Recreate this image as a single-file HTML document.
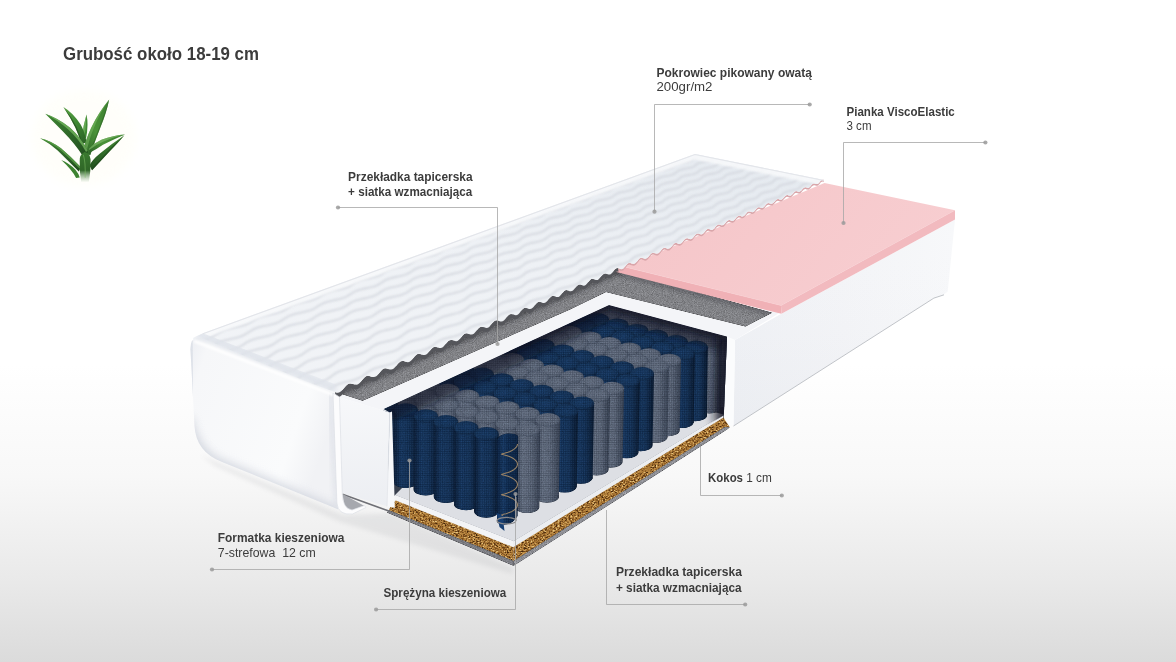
<!DOCTYPE html>
<html lang="pl">
<head>
<meta charset="utf-8">
<title>Grubość około 18-19 cm</title>
<style>
html,body{margin:0;padding:0;background:#fff;}
body{width:1176px;height:662px;overflow:hidden;}
svg{display:block;}
text{white-space:pre;}
</style>
</head>
<body>
<svg width="1176" height="662" viewBox="0 0 1176 662">
<defs>

<linearGradient id="bg" x1="0" y1="0" x2="0" y2="1">
  <stop offset="0" stop-color="#ffffff"/>
  <stop offset="0.55" stop-color="#ffffff"/>
  <stop offset="0.72" stop-color="#f8f8f8"/>
  <stop offset="0.88" stop-color="#e9e9e9"/>
  <stop offset="1" stop-color="#dbdbdb"/>
</linearGradient>
<linearGradient id="gBlue" x1="0" y1="0" x2="1" y2="0">
  <stop offset="0" stop-color="#0b1f3c"/>
  <stop offset="0.3" stop-color="#193d6b"/>
  <stop offset="0.65" stop-color="#163761"/>
  <stop offset="1" stop-color="#0a1c35"/>
</linearGradient>
<linearGradient id="gGray" x1="0" y1="0" x2="1" y2="0">
  <stop offset="0" stop-color="#434d61"/>
  <stop offset="0.3" stop-color="#717c90"/>
  <stop offset="0.65" stop-color="#677286"/>
  <stop offset="1" stop-color="#3d475a"/>
</linearGradient>
<radialGradient id="cBlue" cx="0.45" cy="0.45" r="0.6">
  <stop offset="0" stop-color="#1a4070"/>
  <stop offset="0.7" stop-color="#173963"/>
  <stop offset="1" stop-color="#0e2646"/>
</radialGradient>
<radialGradient id="cGray" cx="0.45" cy="0.45" r="0.6">
  <stop offset="0" stop-color="#727d91"/>
  <stop offset="0.7" stop-color="#687387"/>
  <stop offset="1" stop-color="#4a5569"/>
</radialGradient>
<filter id="fabric" x="0" y="0" width="1" height="1" color-interpolation-filters="sRGB">
  <feTurbulence type="fractalNoise" baseFrequency="0.85" numOctaves="2" seed="7" result="n"/>
  <feColorMatrix in="n" type="matrix" values="0.33 0.33 0.33 0 0  0.33 0.33 0.33 0 0  0.33 0.33 0.33 0 0  0 0 0 0 1" result="g"/>
  <feComposite in="SourceGraphic" in2="g" operator="arithmetic" k1="0.7" k2="0.56" k3="0" k4="0"/>
</filter>
<filter id="felt" x="0" y="0" width="1" height="1" color-interpolation-filters="sRGB">
  <feTurbulence type="fractalNoise" baseFrequency="1.1" numOctaves="2" seed="11" result="n"/>
  <feColorMatrix in="n" type="matrix" values="0.33 0.33 0.33 0 0  0.33 0.33 0.33 0 0  0.33 0.33 0.33 0 0  0 0 0 0 1" result="g"/>
  <feComposite in="SourceGraphic" in2="g" operator="arithmetic" k1="1.0" k2="0.5" k3="0" k4="0"/>
</filter>
<filter id="coco" x="0" y="0" width="1" height="1" color-interpolation-filters="sRGB">
  <feTurbulence type="fractalNoise" baseFrequency="0.55 0.8" numOctaves="3" seed="5" result="n"/>
  <feColorMatrix in="n" type="matrix" values="1.1 1.1 1.1 0 -1.15  1.1 1.1 1.1 0 -1.15  1.1 1.1 1.1 0 -1.15  0 0 0 0 1" result="g"/>
  <feComponentTransfer in="g" result="c">
    <feFuncR type="table" tableValues="0.26 0.46 0.66 0.76 0.90"/>
    <feFuncG type="table" tableValues="0.15 0.29 0.46 0.57 0.78"/>
    <feFuncB type="table" tableValues="0.05 0.11 0.20 0.29 0.52"/>
  </feComponentTransfer>
  <feComposite in="c" in2="SourceAlpha" operator="in"/>
</filter>
<pattern id="weave" width="2.2" height="2.2" patternUnits="userSpaceOnUse">
  <rect x="0" y="0" width="2.2" height="0.8" fill="#000814" opacity="0.16"/>
  <rect x="0" y="0" width="0.8" height="2.2" fill="#000814" opacity="0.13"/>
  <rect x="1" y="1" width="1" height="1" fill="#cfd8e6" opacity="0.07"/>
</pattern>
<filter id="blurR" filterUnits="userSpaceOnUse" x="670" y="300" width="80" height="150"><feGaussianBlur stdDeviation="4"/></filter>
<filter id="blur1"><feGaussianBlur stdDeviation="1"/></filter>
<filter id="blur2"><feGaussianBlur stdDeviation="2"/></filter>
<filter id="blur4"><feGaussianBlur stdDeviation="4"/></filter>
<filter id="blur8" x="-0.2" y="-0.5" width="1.4" height="2"><feGaussianBlur stdDeviation="7"/></filter>


<linearGradient id="gRight" x1="0" y1="0" x2="1" y2="0">
  <stop offset="0" stop-color="#eff1f5"/>
  <stop offset="0.5" stop-color="#f3f4f7"/>
  <stop offset="1" stop-color="#f7f8fa"/>
</linearGradient>
<linearGradient id="gRightV" x1="0" y1="0" x2="0" y2="1">
  <stop offset="0" stop-color="#ffffff" stop-opacity="0"/>
  <stop offset="1" stop-color="#c9ccd4" stop-opacity="0.12"/>
</linearGradient>

<g id="spr"><path d="M591.7 302.1 L591.8 358.2 A11.7 5.9 0 0 0 615.2 358.2 L614.9 302.1 Z" fill="url(#gGray)"/><ellipse cx="603.3" cy="302.1" rx="11.6" ry="6.5" fill="url(#cGray)"/><path d="M580.5 307.3 L580.3 364.3 A11.7 5.9 0 0 0 603.8 364.3 L603.7 307.3 Z" fill="url(#gGray)"/><ellipse cx="592.1" cy="307.3" rx="11.6" ry="6.5" fill="url(#cGray)"/><path d="M611.1 307.5 L611.3 365.4 A11.7 5.9 0 0 0 634.8 365.4 L634.4 307.5 Z" fill="url(#gGray)"/><ellipse cx="622.7" cy="307.5" rx="11.7" ry="6.5" fill="url(#cGray)"/><path d="M599.9 312.8 L599.9 371.5 A11.7 5.9 0 0 0 623.4 371.5 L623.2 312.8 Z" fill="url(#gGray)"/><ellipse cx="611.6" cy="312.8" rx="11.7" ry="6.5" fill="url(#cGray)"/><path d="M566.3 314.0 L565.8 372.0 A11.8 5.9 0 0 0 589.4 372.0 L589.5 314.0 Z" fill="url(#gBlue)"/><ellipse cx="577.9" cy="314.0" rx="11.6" ry="6.5" fill="url(#cBlue)"/><path d="M630.5 313.0 L630.8 372.7 A11.7 5.9 0 0 0 654.3 372.7 L653.9 313.0 Z" fill="url(#gGray)"/><ellipse cx="642.2" cy="313.0" rx="11.7" ry="6.6" fill="url(#cGray)"/><path d="M619.4 318.3 L619.5 378.8 A11.7 5.9 0 0 0 643.0 378.8 L642.8 318.3 Z" fill="url(#gGray)"/><ellipse cx="631.1" cy="318.3" rx="11.7" ry="6.6" fill="url(#cGray)"/><path d="M553.0 320.2 L552.4 379.2 A11.8 5.9 0 0 0 576.0 379.2 L576.4 320.2 Z" fill="url(#gBlue)"/><ellipse cx="564.7" cy="320.2" rx="11.7" ry="6.5" fill="url(#cBlue)"/><path d="M585.7 319.5 L585.5 379.3 A11.8 5.9 0 0 0 609.0 379.3 L609.1 319.5 Z" fill="url(#gBlue)"/><ellipse cx="597.4" cy="319.5" rx="11.7" ry="6.5" fill="url(#cBlue)"/><path d="M650.0 318.4 L650.4 379.9 A11.7 5.9 0 0 0 673.8 379.9 L673.5 318.4 Z" fill="url(#gGray)"/><ellipse cx="661.8" cy="318.4" rx="11.7" ry="6.6" fill="url(#cGray)"/><path d="M638.9 323.8 L639.0 386.0 A11.7 5.9 0 0 0 662.5 386.0 L662.5 323.8 Z" fill="url(#gGray)"/><ellipse cx="650.7" cy="323.8" rx="11.8" ry="6.6" fill="url(#cGray)"/><path d="M572.5 325.7 L572.0 386.4 A11.8 5.9 0 0 0 595.6 386.4 L595.9 325.7 Z" fill="url(#gBlue)"/><ellipse cx="584.2" cy="325.7" rx="11.7" ry="6.6" fill="url(#cBlue)"/><path d="M605.2 325.0 L605.1 386.5 A11.8 5.9 0 0 0 628.6 386.5 L628.7 325.0 Z" fill="url(#gBlue)"/><ellipse cx="616.9" cy="325.0" rx="11.7" ry="6.6" fill="url(#cBlue)"/><path d="M538.8 326.9 L537.9 386.9 A11.8 5.9 0 0 0 561.6 386.9 L562.2 326.9 Z" fill="url(#gGray)"/><ellipse cx="550.5" cy="326.9" rx="11.7" ry="6.5" fill="url(#cGray)"/><path d="M669.7 323.9 L669.9 387.1 A11.7 5.8 0 0 0 693.3 387.1 L693.2 323.9 Z" fill="url(#gGray)"/><ellipse cx="681.4" cy="323.9" rx="11.8" ry="6.6" fill="url(#cGray)"/><path d="M658.6 329.3 L658.6 393.2 A11.7 5.9 0 0 0 682.0 393.2 L682.2 329.3 Z" fill="url(#gGray)"/><ellipse cx="670.4" cy="329.3" rx="11.8" ry="6.6" fill="url(#cGray)"/><path d="M526.6 332.6 L525.6 393.5 A11.9 5.9 0 0 0 549.3 393.5 L550.0 332.6 Z" fill="url(#gGray)"/><ellipse cx="538.3" cy="332.6" rx="11.7" ry="6.6" fill="url(#cGray)"/><path d="M592.1 331.3 L591.7 393.7 A11.8 5.9 0 0 0 615.3 393.7 L615.6 331.3 Z" fill="url(#gBlue)"/><ellipse cx="603.8" cy="331.3" rx="11.8" ry="6.6" fill="url(#cBlue)"/><path d="M624.8 330.5 L624.7 393.7 A11.8 5.9 0 0 0 648.2 393.7 L648.4 330.5 Z" fill="url(#gBlue)"/><ellipse cx="636.6" cy="330.5" rx="11.8" ry="6.6" fill="url(#cBlue)"/><path d="M558.3 332.4 L557.6 394.1 A11.8 5.9 0 0 0 581.3 394.1 L581.8 332.4 Z" fill="url(#gGray)"/><ellipse cx="570.0" cy="332.4" rx="11.7" ry="6.6" fill="url(#cGray)"/><path d="M689.3 329.5 L689.4 394.3 A11.7 5.8 0 0 0 712.7 394.3 L713.0 329.5 Z" fill="url(#gGray)"/><ellipse cx="701.2" cy="329.5" rx="11.8" ry="6.6" fill="url(#cGray)"/><path d="M678.3 334.8 L678.1 400.4 A11.7 5.9 0 0 0 701.5 400.4 L702.0 334.8 Z" fill="url(#gGray)"/><ellipse cx="690.2" cy="334.8" rx="11.9" ry="6.6" fill="url(#cGray)"/><path d="M546.1 338.2 L545.3 400.7 A11.8 5.9 0 0 0 569.0 400.7 L569.6 338.2 Z" fill="url(#gGray)"/><ellipse cx="557.9" cy="338.2" rx="11.7" ry="6.6" fill="url(#cGray)"/><path d="M611.7 336.8 L611.3 400.9 A11.8 5.9 0 0 0 634.9 400.9 L635.3 336.8 Z" fill="url(#gBlue)"/><ellipse cx="623.5" cy="336.8" rx="11.8" ry="6.6" fill="url(#cBlue)"/><path d="M644.5 336.1 L644.2 401.0 A11.7 5.9 0 0 0 667.7 401.0 L668.1 336.1 Z" fill="url(#gBlue)"/><ellipse cx="656.3" cy="336.1" rx="11.8" ry="6.6" fill="url(#cBlue)"/><path d="M577.9 338.0 L577.3 401.4 A11.8 5.9 0 0 0 601.0 401.4 L601.4 338.0 Z" fill="url(#gGray)"/><ellipse cx="589.7" cy="338.0" rx="11.8" ry="6.6" fill="url(#cGray)"/><path d="M709.1 335.0 L708.8 401.4 A11.7 5.8 0 0 0 732.2 401.4 L732.9 335.0 Z" fill="url(#gGray)"/><ellipse cx="721.0" cy="335.0" rx="11.9" ry="6.7" fill="url(#cGray)"/><path d="M511.3 339.8 L510.2 401.7 A11.9 5.9 0 0 0 533.9 401.7 L534.8 339.8 Z" fill="url(#gBlue)"/><ellipse cx="523.1" cy="339.8" rx="11.7" ry="6.6" fill="url(#cBlue)"/><path d="M698.1 340.4 L697.6 407.6 A11.7 5.9 0 0 0 721.0 407.6 L721.9 340.4 Z" fill="url(#gGray)"/><ellipse cx="710.0" cy="340.4" rx="11.9" ry="6.7" fill="url(#cGray)"/><path d="M565.7 343.8 L565.1 408.0 A11.8 5.9 0 0 0 588.7 408.0 L589.3 343.8 Z" fill="url(#gGray)"/><ellipse cx="577.5" cy="343.8" rx="11.8" ry="6.6" fill="url(#cGray)"/><path d="M631.4 342.4 L631.0 408.2 A11.8 5.9 0 0 0 654.5 408.2 L655.1 342.4 Z" fill="url(#gBlue)"/><ellipse cx="643.2" cy="342.4" rx="11.9" ry="6.6" fill="url(#cBlue)"/><path d="M664.2 341.7 L663.8 408.2 A11.7 5.9 0 0 0 687.3 408.2 L688.0 341.7 Z" fill="url(#gBlue)"/><ellipse cx="676.1" cy="341.7" rx="11.9" ry="6.7" fill="url(#cBlue)"/><path d="M597.5 343.6 L597.0 408.7 A11.8 5.9 0 0 0 620.6 408.7 L621.2 343.6 Z" fill="url(#gGray)"/><ellipse cx="609.4" cy="343.6" rx="11.8" ry="6.6" fill="url(#cGray)"/><path d="M530.9 345.4 L530.0 409.0 A11.9 5.9 0 0 0 553.7 409.0 L554.5 345.4 Z" fill="url(#gBlue)"/><ellipse cx="542.7" cy="345.4" rx="11.8" ry="6.6" fill="url(#cBlue)"/><path d="M497.1 346.4 L495.8 409.3 A11.9 6.0 0 0 0 519.6 409.3 L520.6 346.4 Z" fill="url(#gBlue)"/><ellipse cx="508.9" cy="346.4" rx="11.7" ry="6.6" fill="url(#cBlue)"/><path d="M585.4 349.4 L584.8 415.3 A11.8 5.9 0 0 0 608.5 415.3 L609.1 349.4 Z" fill="url(#gGray)"/><ellipse cx="597.3" cy="349.4" rx="11.8" ry="6.6" fill="url(#cGray)"/><path d="M684.1 347.3 L683.4 415.4 A11.7 5.9 0 0 0 706.9 415.4 L707.9 347.3 Z" fill="url(#gBlue)"/><ellipse cx="696.0" cy="347.3" rx="11.9" ry="6.7" fill="url(#cBlue)"/><path d="M651.2 348.0 L650.6 415.4 A11.8 5.9 0 0 0 674.1 415.4 L675.0 348.0 Z" fill="url(#gBlue)"/><ellipse cx="663.1" cy="348.0" rx="11.9" ry="6.7" fill="url(#cBlue)"/><path d="M617.3 349.2 L616.7 415.9 A11.8 5.9 0 0 0 640.3 415.9 L641.0 349.2 Z" fill="url(#gGray)"/><ellipse cx="629.2" cy="349.2" rx="11.9" ry="6.7" fill="url(#cGray)"/><path d="M550.6 351.0 L549.7 416.2 A11.9 5.9 0 0 0 573.5 416.2 L574.2 351.0 Z" fill="url(#gBlue)"/><ellipse cx="562.4" cy="351.0" rx="11.8" ry="6.6" fill="url(#cBlue)"/><path d="M516.7 352.1 L515.6 416.6 A11.9 6.0 0 0 0 539.5 416.6 L540.3 352.1 Z" fill="url(#gBlue)"/><ellipse cx="528.5" cy="352.1" rx="11.8" ry="6.6" fill="url(#cBlue)"/><path d="M480.8 354.1 L479.4 418.0 A11.9 6.0 0 0 0 503.3 418.0 L504.4 354.1 Z" fill="url(#gGray)"/><ellipse cx="492.6" cy="354.1" rx="11.8" ry="6.6" fill="url(#cGray)"/><path d="M605.2 355.0 L604.5 422.5 A11.8 5.9 0 0 0 628.2 422.5 L629.0 355.0 Z" fill="url(#gGray)"/><ellipse cx="617.1" cy="355.0" rx="11.9" ry="6.7" fill="url(#cGray)"/><path d="M671.0 353.7 L670.2 422.6 A11.8 5.9 0 0 0 693.7 422.6 L695.0 353.7 Z" fill="url(#gBlue)"/><ellipse cx="683.0" cy="353.7" rx="12.0" ry="6.7" fill="url(#cBlue)"/><path d="M637.1 354.9 L636.4 423.2 A11.8 5.9 0 0 0 660.0 423.2 L661.0 354.9 Z" fill="url(#gGray)"/><ellipse cx="649.0" cy="354.9" rx="11.9" ry="6.7" fill="url(#cGray)"/><path d="M570.3 356.7 L569.5 423.5 A11.9 5.9 0 0 0 593.2 423.5 L594.0 356.7 Z" fill="url(#gBlue)"/><ellipse cx="582.2" cy="356.7" rx="11.9" ry="6.6" fill="url(#cBlue)"/><path d="M536.4 357.7 L535.5 423.9 A11.9 5.9 0 0 0 559.3 423.9 L560.1 357.7 Z" fill="url(#gBlue)"/><ellipse cx="548.2" cy="357.7" rx="11.8" ry="6.6" fill="url(#cBlue)"/><path d="M500.5 359.7 L499.3 425.3 A11.9 6.0 0 0 0 523.2 425.3 L524.1 359.7 Z" fill="url(#gGray)"/><ellipse cx="512.3" cy="359.7" rx="11.8" ry="6.6" fill="url(#cGray)"/><path d="M466.6 360.7 L465.2 425.6 A12.0 6.0 0 0 0 489.1 425.6 L490.2 360.7 Z" fill="url(#gGray)"/><ellipse cx="478.4" cy="360.7" rx="11.8" ry="6.6" fill="url(#cGray)"/><path d="M625.1 360.7 L624.2 429.8 A11.8 5.9 0 0 0 647.8 429.8 L649.0 360.7 Z" fill="url(#gGray)"/><ellipse cx="637.0" cy="360.7" rx="11.9" ry="6.7" fill="url(#cGray)"/><path d="M657.0 360.5 L656.0 430.4 A11.8 5.9 0 0 0 679.6 430.4 L681.0 360.5 Z" fill="url(#gGray)"/><ellipse cx="669.0" cy="360.5" rx="12.0" ry="6.7" fill="url(#cGray)"/><path d="M590.1 362.3 L589.3 430.8 A11.9 5.9 0 0 0 613.0 430.8 L613.9 362.3 Z" fill="url(#gBlue)"/><ellipse cx="602.0" cy="362.3" rx="11.9" ry="6.7" fill="url(#cBlue)"/><path d="M556.2 363.4 L555.3 431.2 A11.9 5.9 0 0 0 579.1 431.2 L579.9 363.4 Z" fill="url(#gBlue)"/><ellipse cx="568.1" cy="363.4" rx="11.9" ry="6.7" fill="url(#cBlue)"/><path d="M520.2 365.4 L519.2 432.6 A11.9 6.0 0 0 0 543.1 432.6 L543.9 365.4 Z" fill="url(#gGray)"/><ellipse cx="532.1" cy="365.4" rx="11.9" ry="6.6" fill="url(#cGray)"/><path d="M486.3 366.4 L485.1 432.9 A12.0 6.0 0 0 0 509.0 432.9 L510.0 366.4 Z" fill="url(#gGray)"/><ellipse cx="498.1" cy="366.4" rx="11.8" ry="6.6" fill="url(#cGray)"/><path d="M450.4 368.3 L448.9 434.3 A12.0 6.0 0 0 0 472.9 434.3 L474.0 368.3 Z" fill="url(#gBlue)"/><ellipse cx="462.2" cy="368.3" rx="11.8" ry="6.6" fill="url(#cBlue)"/><path d="M645.0 366.4 L643.9 437.0 A11.8 5.9 0 0 0 667.5 437.0 L669.0 366.4 Z" fill="url(#gGray)"/><ellipse cx="657.0" cy="366.4" rx="12.0" ry="6.7" fill="url(#cGray)"/><path d="M610.0 368.0 L609.0 438.1 A11.8 5.9 0 0 0 632.7 438.1 L633.9 368.0 Z" fill="url(#gBlue)"/><ellipse cx="622.0" cy="368.0" rx="12.0" ry="6.7" fill="url(#cBlue)"/><path d="M576.0 369.1 L575.1 438.5 A11.9 5.9 0 0 0 598.9 438.5 L599.9 369.1 Z" fill="url(#gBlue)"/><ellipse cx="588.0" cy="369.1" rx="11.9" ry="6.7" fill="url(#cBlue)"/><path d="M540.0 371.2 L539.1 439.9 A11.9 6.0 0 0 0 562.9 439.9 L563.8 371.2 Z" fill="url(#gGray)"/><ellipse cx="551.9" cy="371.2" rx="11.9" ry="6.7" fill="url(#cGray)"/><path d="M506.0 372.2 L505.0 440.3 A12.0 6.0 0 0 0 528.9 440.3 L529.8 372.2 Z" fill="url(#gGray)"/><ellipse cx="517.9" cy="372.2" rx="11.9" ry="6.7" fill="url(#cGray)"/><path d="M470.1 374.1 L468.9 441.6 A12.0 6.0 0 0 0 492.9 441.6 L493.8 374.1 Z" fill="url(#gBlue)"/><ellipse cx="481.9" cy="374.1" rx="11.9" ry="6.6" fill="url(#cBlue)"/><path d="M434.1 376.0 L432.6 442.9 A12.0 6.0 0 0 0 456.7 442.9 L457.8 376.0 Z" fill="url(#gBlue)"/><ellipse cx="445.9" cy="376.0" rx="11.8" ry="6.6" fill="url(#cBlue)"/><path d="M630.0 373.8 L628.8 445.3 A11.8 5.9 0 0 0 652.5 445.3 L654.0 373.8 Z" fill="url(#gBlue)"/><ellipse cx="642.0" cy="373.8" rx="12.0" ry="6.7" fill="url(#cBlue)"/><path d="M595.9 374.9 L594.9 445.8 A11.9 5.9 0 0 0 618.7 445.8 L619.9 374.9 Z" fill="url(#gBlue)"/><ellipse cx="607.9" cy="374.9" rx="12.0" ry="6.7" fill="url(#cBlue)"/><path d="M559.9 376.9 L559.0 447.2 A11.9 6.0 0 0 0 582.8 447.2 L583.8 376.9 Z" fill="url(#gGray)"/><ellipse cx="571.9" cy="376.9" rx="12.0" ry="6.7" fill="url(#cGray)"/><path d="M525.9 377.9 L525.0 447.6 A11.9 6.0 0 0 0 548.9 447.6 L549.8 377.9 Z" fill="url(#gGray)"/><ellipse cx="537.8" cy="377.9" rx="11.9" ry="6.7" fill="url(#cGray)"/><path d="M489.9 379.9 L488.9 449.0 A12.0 6.0 0 0 0 512.8 449.0 L513.7 379.9 Z" fill="url(#gBlue)"/><ellipse cx="501.8" cy="379.9" rx="11.9" ry="6.7" fill="url(#cBlue)"/><path d="M453.8 381.8 L452.7 450.3 A12.0 6.0 0 0 0 476.7 450.3 L477.6 381.8 Z" fill="url(#gBlue)"/><ellipse cx="465.7" cy="381.8" rx="11.9" ry="6.7" fill="url(#cBlue)"/><path d="M415.8 384.5 L414.4 452.6 A12.1 6.0 0 0 0 438.5 452.6 L439.5 384.5 Z" fill="url(#gGray)"/><ellipse cx="427.7" cy="384.5" rx="11.9" ry="6.6" fill="url(#cGray)"/><path d="M616.0 380.6 L614.7 453.0 A11.9 5.9 0 0 0 638.4 453.0 L640.0 380.6 Z" fill="url(#gBlue)"/><ellipse cx="628.0" cy="380.6" rx="12.0" ry="6.7" fill="url(#cBlue)"/><path d="M579.9 382.7 L578.8 454.5 A11.9 6.0 0 0 0 602.6 454.5 L603.9 382.7 Z" fill="url(#gGray)"/><ellipse cx="591.9" cy="382.7" rx="12.0" ry="6.7" fill="url(#cGray)"/><path d="M545.8 383.7 L544.9 454.9 A11.9 6.0 0 0 0 568.7 454.9 L569.8 383.7 Z" fill="url(#gGray)"/><ellipse cx="557.8" cy="383.7" rx="12.0" ry="6.7" fill="url(#cGray)"/><path d="M509.7 385.7 L508.8 456.3 A12.0 6.0 0 0 0 532.8 456.3 L533.7 385.7 Z" fill="url(#gBlue)"/><ellipse cx="521.7" cy="385.7" rx="12.0" ry="6.7" fill="url(#cBlue)"/><path d="M473.7 387.6 L472.7 457.6 A12.0 6.0 0 0 0 496.8 457.6 L497.5 387.6 Z" fill="url(#gBlue)"/><ellipse cx="485.6" cy="387.6" rx="11.9" ry="6.7" fill="url(#cBlue)"/><path d="M435.6 390.4 L434.5 460.0 A12.1 6.0 0 0 0 458.6 460.0 L459.4 390.4 Z" fill="url(#gGray)"/><ellipse cx="447.5" cy="390.4" rx="11.9" ry="6.7" fill="url(#cGray)"/><path d="M599.9 388.5 L598.7 461.8 A11.9 6.0 0 0 0 622.5 461.8 L624.1 388.5 Z" fill="url(#gGray)"/><ellipse cx="612.0" cy="388.5" rx="12.1" ry="6.8" fill="url(#cGray)"/><path d="M565.8 389.5 L564.8 462.2 A11.9 6.0 0 0 0 588.6 462.2 L589.9 389.5 Z" fill="url(#gGray)"/><ellipse cx="577.9" cy="389.5" rx="12.0" ry="6.7" fill="url(#cGray)"/><path d="M395.5 394.1 L394.2 463.4 A12.1 6.1 0 0 0 418.4 463.4 L419.2 394.1 Z" fill="url(#gGray)"/><ellipse cx="407.4" cy="394.1" rx="11.9" ry="6.7" fill="url(#cGray)"/><path d="M529.7 391.5 L528.8 463.6 A12.0 6.0 0 0 0 552.7 463.6 L553.7 391.5 Z" fill="url(#gBlue)"/><ellipse cx="541.7" cy="391.5" rx="12.0" ry="6.7" fill="url(#cBlue)"/><path d="M493.6 393.4 L492.7 465.0 A12.0 6.0 0 0 0 516.8 465.0 L517.6 393.4 Z" fill="url(#gBlue)"/><ellipse cx="505.6" cy="393.4" rx="12.0" ry="6.7" fill="url(#cBlue)"/><path d="M455.5 396.2 L454.6 467.4 A12.1 6.0 0 0 0 478.7 467.4 L479.4 396.2 Z" fill="url(#gGray)"/><ellipse cx="467.4" cy="396.2" rx="12.0" ry="6.7" fill="url(#cGray)"/><path d="M585.9 395.4 L584.6 469.5 A11.9 6.0 0 0 0 608.5 469.5 L610.1 395.4 Z" fill="url(#gGray)"/><ellipse cx="598.0" cy="395.4" rx="12.1" ry="6.8" fill="url(#cGray)"/><path d="M415.3 399.9 L414.4 470.7 A12.1 6.1 0 0 0 438.6 470.7 L439.2 399.9 Z" fill="url(#gGray)"/><ellipse cx="427.3" cy="399.9" rx="11.9" ry="6.7" fill="url(#cGray)"/><path d="M549.8 397.3 L548.7 471.0 A12.0 6.0 0 0 0 572.7 471.0 L573.9 397.3 Z" fill="url(#gBlue)"/><ellipse cx="561.8" cy="397.3" rx="12.1" ry="6.8" fill="url(#cBlue)"/><path d="M513.6 399.3 L512.8 472.3 A12.0 6.0 0 0 0 536.8 472.3 L537.7 399.3 Z" fill="url(#gBlue)"/><ellipse cx="525.6" cy="399.3" rx="12.0" ry="6.7" fill="url(#cBlue)"/><path d="M374.1 404.1 L373.1 474.6 A12.1 6.1 0 0 0 397.4 474.6 L398.0 404.1 Z" fill="url(#gBlue)"/><ellipse cx="386.1" cy="404.1" rx="11.9" ry="6.7" fill="url(#cBlue)"/><path d="M475.4 402.1 L474.7 474.7 A12.0 6.0 0 0 0 498.8 474.7 L499.5 402.1 Z" fill="url(#gGray)"/><ellipse cx="487.4" cy="402.1" rx="12.0" ry="6.7" fill="url(#cGray)"/><path d="M435.2 405.8 L434.6 478.1 A12.1 6.0 0 0 0 458.8 478.1 L459.2 405.8 Z" fill="url(#gGray)"/><ellipse cx="447.2" cy="405.8" rx="12.0" ry="6.7" fill="url(#cGray)"/><path d="M569.9 403.2 L568.7 478.3 A12.0 6.0 0 0 0 592.6 478.3 L594.1 403.2 Z" fill="url(#gBlue)"/><ellipse cx="582.0" cy="403.2" rx="12.1" ry="6.8" fill="url(#cBlue)"/><path d="M533.7 405.1 L532.8 479.7 A12.0 6.0 0 0 0 556.8 479.7 L557.9 405.1 Z" fill="url(#gBlue)"/><ellipse cx="545.8" cy="405.1" rx="12.1" ry="6.8" fill="url(#cBlue)"/><path d="M394.0 410.0 L393.4 482.0 A12.1 6.1 0 0 0 417.6 482.0 L418.0 410.0 Z" fill="url(#gBlue)"/><ellipse cx="406.0" cy="410.0" rx="12.0" ry="6.7" fill="url(#cBlue)"/><path d="M495.5 408.0 L494.8 482.1 A12.0 6.0 0 0 0 518.9 482.1 L519.6 408.0 Z" fill="url(#gGray)"/><ellipse cx="507.5" cy="408.0" rx="12.1" ry="6.8" fill="url(#cGray)"/><path d="M455.3 411.8 L454.7 485.5 A12.1 6.0 0 0 0 478.9 485.5 L479.3 411.8 Z" fill="url(#gGray)"/><ellipse cx="467.3" cy="411.8" rx="12.0" ry="6.7" fill="url(#cGray)"/><path d="M553.9 411.1 L552.8 487.0 A12.0 6.0 0 0 0 576.7 487.0 L578.1 411.1 Z" fill="url(#gBlue)"/><ellipse cx="566.0" cy="411.1" rx="12.1" ry="6.8" fill="url(#cBlue)"/><path d="M414.0 415.9 L413.6 489.4 A12.1 6.1 0 0 0 437.9 489.4 L438.0 415.9 Z" fill="url(#gBlue)"/><ellipse cx="426.0" cy="415.9" rx="12.0" ry="6.7" fill="url(#cBlue)"/><path d="M515.6 413.9 L514.8 489.4 A12.0 6.0 0 0 0 538.9 489.4 L539.8 413.9 Z" fill="url(#gGray)"/><ellipse cx="527.7" cy="413.9" rx="12.1" ry="6.8" fill="url(#cGray)"/><path d="M475.4 417.7 L474.9 492.9 A12.1 6.0 0 0 0 499.0 492.9 L499.5 417.7 Z" fill="url(#gGray)"/><ellipse cx="487.4" cy="417.7" rx="12.1" ry="6.8" fill="url(#cGray)"/><path d="M535.8 419.9 L534.9 496.8 A12.0 6.0 0 0 0 558.9 496.8 L560.2 419.9 Z" fill="url(#gGray)"/><ellipse cx="548.0" cy="419.9" rx="12.2" ry="6.8" fill="url(#cGray)"/><path d="M434.1 421.9 L433.8 496.8 A12.1 6.1 0 0 0 458.1 496.8 L458.2 421.9 Z" fill="url(#gBlue)"/><ellipse cx="446.1" cy="421.9" rx="12.1" ry="6.8" fill="url(#cBlue)"/><path d="M495.5 423.7 L495.0 500.3 A12.1 6.0 0 0 0 519.1 500.3 L519.8 423.7 Z" fill="url(#gGray)"/><ellipse cx="507.7" cy="423.7" rx="12.1" ry="6.8" fill="url(#cGray)"/><path d="M454.2 427.9 L454.0 504.2 A12.1 6.1 0 0 0 478.3 504.2 L478.5 427.9 Z" fill="url(#gBlue)"/><ellipse cx="466.3" cy="427.9" rx="12.1" ry="6.8" fill="url(#cBlue)"/><path d="M515.8 429.7 L515.1 507.6 A12.1 6.0 0 0 0 539.2 507.6 L540.2 429.7 Z" fill="url(#gGray)"/><ellipse cx="528.0" cy="429.7" rx="12.2" ry="6.8" fill="url(#cGray)"/><path d="M474.5 433.9 L474.2 511.6 A12.1 6.1 0 0 0 498.4 511.6 L498.8 433.9 Z" fill="url(#gBlue)"/><ellipse cx="486.6" cy="433.9" rx="12.2" ry="6.8" fill="url(#cBlue)"/></g>
<filter id="toWhite" x="0" y="0" width="1" height="1"><feColorMatrix type="matrix" values="0 0 0 0 1  0 0 0 0 1  0 0 0 0 1  0 0 0 1 0"/></filter>
<mask id="sprMask" maskUnits="userSpaceOnUse" x="370" y="290" width="370" height="270"><use href="#spr" filter="url(#toWhite)"/></mask>
<linearGradient id="gCut" x1="0" y1="0" x2="1" y2="0"><stop offset="0" stop-color="#0d2548"/><stop offset="0.3" stop-color="#183e6e"/><stop offset="0.55" stop-color="#10305a"/><stop offset="1" stop-color="#0d274b"/></linearGradient>

<linearGradient id="gEnd" x1="0" y1="0" x2="0" y2="1">
  <stop offset="0" stop-color="#f7f8fa"/>
  <stop offset="1" stop-color="#eceef2"/>
</linearGradient>


<linearGradient id="gPink" x1="0" y1="0" x2="1" y2="0.3">
  <stop offset="0" stop-color="#f5c5c8"/>
  <stop offset="1" stop-color="#f7cdd0"/>
</linearGradient>


<linearGradient id="gCoverTop" x1="0" y1="1" x2="1" y2="0">
  <stop offset="0" stop-color="#f2f4f7"/>
  <stop offset="0.55" stop-color="#eef1f5"/>
  <stop offset="1" stop-color="#e4e9ef"/>
</linearGradient>
<linearGradient id="gCoverEnd" x1="0" y1="0" x2="1" y2="0.4">
  <stop offset="0" stop-color="#eceef3"/>
  <stop offset="0.12" stop-color="#f6f7f9"/>
  <stop offset="0.8" stop-color="#fafbfc"/>
  <stop offset="1" stop-color="#f1f2f5"/>
</linearGradient>
<linearGradient id="gCoverEndV" x1="0" y1="0" x2="0" y2="1">
  <stop offset="0" stop-color="#ffffff" stop-opacity="0"/>
  <stop offset="0.7" stop-color="#dfe2e9" stop-opacity="0"/>
  <stop offset="1" stop-color="#cfd3dc" stop-opacity="0.6"/>
</linearGradient>

</defs>
<rect x="0" y="0" width="1176" height="662" fill="url(#bg)"/>
<polygon points="200.0,455.0 343.0,515.0 392.0,513.0 513.0,568.0 513.0,574.0 340.0,522.0 215.0,466.0" fill="#6d7077" opacity="0.10" filter="url(#blur2)"/>
<polygon points="735.0,340.0 781.4,313.8 955.0,219.6 947.7,291.6 944.0,294.5 933.9,297.7 733.5,425.8" fill="url(#gRight)"/>
<polygon points="735.0,340.0 781.4,313.8 955.0,219.6 947.7,291.6 944.0,294.5 933.9,297.7 733.5,425.8" fill="url(#gRightV)"/>
<polygon points="727.0,336.5 735.0,340.0 733.5,425.8 723.5,423.5" fill="#fbfcfd"/>
<polyline points="733.5,426.0 933.9,298.1 944.0,294.8" fill="none" stroke="#b9bcc2" stroke-width="0.9"/>
<polygon points="383.5,409.0 609.0,305.0 727.0,336.5 723.5,423.5 721.0,416.0 513.6,541.2 395.0,495.0 391.0,500.0" fill="#39414f"/>
<polygon points="395.1,495.1 513.6,541.2 723.5,414.5 640.0,392.0 420.0,470.0" fill="#dddfe4"/>
<polygon points="395.1,495.1 513.6,541.2 513.3,547.2 395.9,500.6" fill="#f3f4f6"/>
<polygon points="513.6,541.2 723.5,414.5 723.5,417.4 513.3,547.2" fill="#eceef1"/>
<g filter="url(#coco)">
<polygon points="395.9,500.6 513.3,547.2 513.6,561.0 389.0,510.2 392.0,503.0" fill="#a5762f"/>
<polygon points="513.3,547.2 723.5,417.4 729.8,427.2 725.0,427.0 513.6,561.0" fill="#b98a3a"/>
</g>
<g filter="url(#felt)">
<polygon points="389.0,510.2 513.6,561.0 513.6,565.8 387.0,512.5" fill="#7d7e84"/>
<polygon points="513.6,561.0 725.0,427.0 729.8,427.2 727.0,429.5 513.6,565.8" fill="#909197"/>
</g>
<clipPath id="cavClip"><polygon points="383.5,409.0 609.0,305.0 727.0,336.5 723.5,423.5 723.5,415.5 513.6,542.0 395.1,496.0 392.0,496.0"/></clipPath>
<g clip-path="url(#cavClip)"><use href="#spr" filter="url(#fabric)"/>
<rect x="380" y="300" width="350" height="250" fill="url(#weave)" mask="url(#sprMask)"/>
<polyline points="383.5,409.0 609.0,305.0 727.0,336.5" fill="none" stroke="#07101e" stroke-width="30" stroke-linejoin="round" opacity="0.55" filter="url(#blur4)"/>
<polyline points="500.0,352.0 609.0,303.0 729.0,335.0 725.0,424.0" fill="none" stroke="#07101e" stroke-width="14" stroke-linejoin="round" opacity="0.5" filter="url(#blur2)"/>
<polyline points="729.0,335.0 725.0,424.0" fill="none" stroke="#07101e" stroke-width="26" opacity="0.55" filter="url(#blurR)"/>
</g>
<g filter="url(#fabric)">
<path d="M497.0 439.0 C501.0 433.0 513.0 432.0 518.0 436.0 L517.5 516.0 C512.5 525.0 502.5 527.0 497.0 522.0 Z" fill="url(#gCut)"/>
</g>
<clipPath id="cutClip"><path d="M497.0 439.0 C501.0 433.0 513.0 432.0 518.0 436.0 L517.5 516.0 C512.5 525.0 502.5 527.0 497.0 522.0 Z"/></clipPath>
<rect x="490" y="420" width="40" height="120" fill="url(#weave)" clip-path="url(#cutClip)"/>
<path d="M496.5 513.0 L502.5 515.0 L504.5 531.0 L499.5 527.0 Z" fill="#173f72"/>
<path d="M517.5 444.0 L517.2 445.5 L516.5 446.9 L515.3 448.2 L513.8 449.4 L512.0 450.5 L510.0 451.5 L508.0 452.2 L506.1 452.8 L504.4 453.3 L503.0 453.6 L502.1 453.9 L501.6 454.1 L501.6 454.2 L502.1 454.4 L503.0 454.6 L504.4 455.0 L506.1 455.4 L508.0 456.0 L510.0 456.8 L512.0 457.7 L513.8 458.8 L515.3 460.1 L516.5 461.4 L517.2 462.8 L517.5 464.3 L517.2 465.7 L516.5 467.2 L515.3 468.5 L513.8 469.7 L512.0 470.8 L510.0 471.7 L508.0 472.5 L506.1 473.1 L504.4 473.6 L503.0 473.9 L502.1 474.2 L501.6 474.3 L501.6 474.5 L502.1 474.7 L503.0 474.9 L504.4 475.3 L506.1 475.7 L508.0 476.3 L510.0 477.1 L512.0 478.0 L513.8 479.1 L515.3 480.3 L516.5 481.7 L517.2 483.1 L517.5 484.6 L517.2 486.0 L516.5 487.4 L515.3 488.8 L513.8 490.0 L512.0 491.1 L510.0 492.0 L508.0 492.8 L506.1 493.4 L504.4 493.9 L503.0 494.2 L502.1 494.4 L501.6 494.6 L501.6 494.8 L502.1 495.0 L503.0 495.2 L504.4 495.5 L506.1 496.0 L508.0 496.6 L510.0 497.4 L512.0 498.3 L513.8 499.4 L515.3 500.6 L516.5 502.0 L517.2 503.4 L517.5 504.8 L517.2 506.3 L516.5 507.7 L515.3 509.0 L513.8 510.3 L512.0 511.4 L510.0 512.3 L508.0 513.1 L506.1 513.7 L504.4 514.1 L503.0 514.5 L502.1 514.7 L501.6 514.9 L501.6 515.1 L502.1 515.2 L503.0 515.5" fill="none" stroke="#a18867" stroke-width="1.05" stroke-linejoin="round" opacity="0.95"/>
<path d="M516.0 520.5 A9.5 3.2 0 1 0 515.9 521.2" fill="none" stroke="#8b8a8c" stroke-width="1.2"/>
<path d="M516.0 497.0 L516.0 521.0" fill="none" stroke="#8b8a8c" stroke-width="1.1"/>
<polygon points="336.3,394.0 606.0,289.0 781.0,312.0 735.0,340.0 727.0,336.5 609.0,305.0 383.5,409.0 389.8,412.6 336.3,396.3" fill="#f4f5f8"/>
<polygon points="336.3,396.3 389.8,412.6 387.0,506.3 342.2,493.3" fill="url(#gEnd)"/>
<polygon points="389.8,412.6 392.0,411.6 394.8,508.1 387.0,506.3" fill="#f7f8fa"/>
<polyline points="389.8,412.6 387.0,506.3" fill="none" stroke="#e2e5ea" stroke-width="0.8"/>
<polyline points="342.5,494.3 389.5,511.3" fill="none" stroke="#6f7076" stroke-width="1.6"/>
<g filter="url(#felt)">
<polygon points="337.2,392.5 500.0,320.0 617.0,270.0 772.0,312.7 745.5,326.5 606.0,292.0 570.0,309.6 362.6,400.8" fill="#828387"/>
</g>
<clipPath id="feltClip"><polygon points="337.2,392.5 500.0,320.0 617.0,270.0 772.0,312.7 745.5,326.5 606.0,292.0 570.0,309.6 362.6,400.8"/></clipPath>
<g clip-path="url(#feltClip)"><polyline points="334.0,394.0 620.0,269.0" fill="none" stroke="#1d1e22" stroke-width="9" opacity="0.45" filter="url(#blur2)"/><polyline points="615.0,272.0 783.0,316.0" fill="none" stroke="#2b2c30" stroke-width="5" opacity="0.35" filter="url(#blur2)"/></g>
<polygon points="612.0,272.0 824.5,183.0 955.0,210.3 781.0,305.5 624.9,267.0" fill="url(#gPink)"/>
<polygon points="624.9,267.0 781.0,305.5 781.4,313.8 615.4,271.7 612.0,270.0" fill="#f0b1b6"/>
<polygon points="781.0,305.5 955.0,210.3 955.0,219.6 781.4,313.8" fill="#f2babf"/>
<polyline points="624.9,267.0 781.0,305.5 955.0,210.3" fill="none" stroke="#f8d4d6" stroke-width="1" opacity="0.35"/>
<path d="M335.0 392.0 L336.5 392.5 L338.1 392.7 L339.6 392.3 L341.1 391.3 L342.6 389.8 L344.1 388.0 L345.6 386.3 L347.1 384.8 L348.6 383.8 L350.1 383.5 L351.6 383.7 L353.1 384.1 L354.6 384.6 L356.1 384.8 L357.6 384.5 L359.1 383.5 L360.6 382.0 L362.0 380.3 L363.5 378.5 L365.0 377.1 L366.5 376.1 L367.9 375.8 L369.4 376.0 L370.8 376.5 L372.3 376.9 L373.8 377.1 L375.2 376.8 L376.7 375.9 L378.1 374.4 L379.5 372.7 L381.0 371.0 L382.4 369.5 L383.9 368.6 L385.3 368.3 L386.7 368.5 L388.2 369.0 L389.6 369.4 L391.0 369.6 L392.4 369.3 L393.8 368.4 L395.2 367.0 L396.7 365.3 L398.1 363.6 L399.5 362.2 L400.9 361.3 L402.3 361.0 L403.7 361.1 L405.1 361.6 L406.5 362.1 L407.8 362.3 L409.2 362.0 L410.6 361.1 L412.0 359.7 L413.4 358.0 L414.8 356.3 L416.1 355.0 L417.5 354.1 L418.9 353.8 L420.2 354.0 L421.6 354.5 L423.0 354.9 L424.3 355.1 L425.7 354.8 L427.0 353.9 L428.4 352.6 L429.7 350.9 L431.1 349.3 L432.4 347.9 L433.8 347.1 L435.1 346.8 L436.4 347.0 L437.8 347.4 L439.1 347.9 L440.4 348.1 L441.8 347.8 L443.1 347.0 L444.4 345.6 L445.7 344.0 L447.0 342.4 L448.3 341.1 L449.7 340.2 L451.0 339.9 L452.3 340.1 L453.6 340.6 L454.9 341.1 L456.2 341.3 L457.5 341.0 L458.8 340.1 L460.1 338.8 L461.4 337.2 L462.6 335.6 L463.9 334.3 L465.2 333.5 L466.5 333.2 L467.8 333.4 L469.0 333.9 L470.3 334.4 L471.6 334.5 L472.9 334.3 L474.1 333.4 L475.4 332.1 L476.7 330.6 L477.9 329.0 L479.2 327.7 L480.4 326.9 L481.7 326.7 L482.9 326.9 L484.2 327.3 L485.4 327.8 L486.7 328.0 L487.9 327.7 L489.2 326.9 L490.4 325.6 L491.6 324.1 L492.9 322.6 L494.1 321.3 L495.3 320.5 L496.6 320.2 L497.8 320.4 L499.0 320.9 L500.2 321.4 L501.4 321.5 L502.7 321.3 L503.9 320.5 L505.1 319.2 L506.3 317.7 L507.5 316.2 L508.7 315.0 L509.9 314.2 L511.1 314.0 L512.3 314.2 L513.5 314.6 L514.7 315.1 L515.9 315.3 L517.1 315.0 L518.3 314.2 L519.5 313.0 L520.6 311.5 L521.8 310.0 L523.0 308.8 L524.2 308.1 L525.4 307.8 L526.5 308.0 L527.7 308.5 L528.9 308.9 L530.0 309.1 L531.2 308.8 L532.4 308.1 L533.5 306.9 L534.7 305.4 L535.9 304.0 L537.0 302.8 L538.2 302.0 L539.3 301.8 L540.5 302.0 L541.6 302.4 L542.8 302.9 L543.9 303.1 L545.1 302.8 L546.2 302.1 L547.3 300.9 L548.5 299.5 L549.6 298.0 L550.7 296.9 L551.9 296.1 L553.0 295.9 L554.1 296.1 L555.2 296.5 L556.4 296.9 L557.5 297.1 L558.6 296.9 L559.7 296.2 L560.8 295.0 L562.0 293.6 L563.1 292.2 L564.2 291.1 L565.3 290.3 L566.4 290.1 L567.5 290.3 L568.6 290.7 L569.7 291.2 L570.8 291.3 L571.9 291.1 L573.0 290.4 L574.1 289.2 L575.2 287.9 L576.3 286.5 L577.4 285.4 L578.4 284.7 L579.5 284.4 L580.6 284.6 L581.7 285.1 L582.8 285.5 L583.8 285.7 L584.9 285.4 L586.0 284.7 L587.1 283.6 L588.1 282.3 L589.2 280.9 L590.3 279.8 L591.3 279.1 L592.4 278.9 L593.5 279.1 L594.5 279.5 L595.6 279.9 L596.6 280.1 L597.7 279.9 L598.7 279.2 L599.8 278.1 L600.8 276.8 L601.9 275.4 L602.9 274.4 L604.0 273.7 L605.0 273.5 L606.0 273.6 L607.1 274.0 L608.1 274.4 L609.2 274.6 L610.2 274.4 L611.2 273.7 L612.3 272.7 L613.3 271.4 L614.3 270.1 L615.3 269.0 L616.4 268.3 L617.4 268.1 L618.4 268.3 L618.4 271.7 L617.4 271.5 L616.4 271.7 L615.3 272.4 L614.3 273.5 L613.3 274.8 L612.3 276.1 L611.2 277.2 L610.2 277.8 L609.2 278.1 L608.1 277.9 L607.1 277.5 L606.0 277.1 L605.0 276.9 L604.0 277.1 L602.9 277.8 L601.9 278.9 L600.8 280.2 L599.8 281.6 L598.7 282.7 L597.7 283.4 L596.6 283.6 L595.6 283.4 L594.5 283.0 L593.5 282.6 L592.4 282.4 L591.3 282.6 L590.3 283.3 L589.2 284.5 L588.1 285.8 L587.1 287.2 L586.0 288.3 L584.9 289.0 L583.8 289.2 L582.8 289.0 L581.7 288.6 L580.6 288.2 L579.5 288.0 L578.4 288.3 L577.4 289.0 L576.3 290.1 L575.2 291.5 L574.1 292.9 L573.0 294.0 L571.9 294.7 L570.8 295.0 L569.7 294.8 L568.6 294.4 L567.5 293.9 L566.4 293.8 L565.3 294.0 L564.2 294.7 L563.1 295.9 L562.0 297.3 L560.8 298.7 L559.7 299.8 L558.6 300.6 L557.5 300.8 L556.4 300.6 L555.2 300.2 L554.1 299.8 L553.0 299.6 L551.9 299.8 L550.7 300.6 L549.6 301.7 L548.5 303.2 L547.3 304.6 L546.2 305.8 L545.1 306.5 L543.9 306.8 L542.8 306.6 L541.6 306.2 L540.5 305.7 L539.3 305.5 L538.2 305.8 L537.0 306.6 L535.9 307.7 L534.7 309.2 L533.5 310.7 L532.4 311.9 L531.2 312.6 L530.0 312.9 L528.9 312.7 L527.7 312.3 L526.5 311.8 L525.4 311.6 L524.2 311.9 L523.0 312.7 L521.8 313.9 L520.6 315.4 L519.5 316.8 L518.3 318.1 L517.1 318.8 L515.9 319.1 L514.7 318.9 L513.5 318.5 L512.3 318.0 L511.1 317.8 L509.9 318.1 L508.7 318.9 L507.5 320.1 L506.3 321.6 L505.1 323.1 L503.9 324.4 L502.7 325.2 L501.4 325.5 L500.2 325.3 L499.0 324.8 L497.8 324.4 L496.6 324.2 L495.3 324.4 L494.1 325.2 L492.9 326.5 L491.6 328.0 L490.4 329.6 L489.2 330.9 L487.9 331.7 L486.7 331.9 L485.4 331.8 L484.2 331.3 L482.9 330.8 L481.7 330.7 L480.4 330.9 L479.2 331.7 L477.9 333.0 L476.7 334.6 L475.4 336.2 L474.1 337.5 L472.9 338.3 L471.6 338.6 L470.3 338.4 L469.0 337.9 L467.8 337.5 L466.5 337.3 L465.2 337.6 L463.9 338.4 L462.6 339.7 L461.4 341.3 L460.1 342.9 L458.8 344.2 L457.5 345.0 L456.2 345.3 L454.9 345.2 L453.6 344.7 L452.3 344.2 L451.0 344.0 L449.7 344.3 L448.3 345.2 L447.0 346.5 L445.7 348.1 L444.4 349.7 L443.1 351.1 L441.8 352.0 L440.4 352.3 L439.1 352.1 L437.8 351.6 L436.4 351.1 L435.1 350.9 L433.8 351.2 L432.4 352.1 L431.1 353.5 L429.7 355.1 L428.4 356.8 L427.0 358.1 L425.7 359.0 L424.3 359.3 L423.0 359.1 L421.6 358.7 L420.2 358.2 L418.9 358.0 L417.5 358.3 L416.1 359.2 L414.8 360.6 L413.4 362.3 L412.0 363.9 L410.6 365.3 L409.2 366.2 L407.8 366.6 L406.5 366.4 L405.1 365.9 L403.7 365.4 L402.3 365.2 L400.9 365.5 L399.5 366.4 L398.1 367.9 L396.7 369.6 L395.2 371.3 L393.8 372.7 L392.4 373.6 L391.0 373.9 L389.6 373.8 L388.2 373.3 L386.7 372.8 L385.3 372.6 L383.9 372.9 L382.4 373.9 L381.0 375.3 L379.5 377.0 L378.1 378.8 L376.7 380.2 L375.2 381.2 L373.8 381.5 L372.3 381.3 L370.8 380.8 L369.4 380.4 L367.9 380.2 L366.5 380.5 L365.0 381.5 L363.5 382.9 L362.0 384.7 L360.6 386.5 L359.1 387.9 L357.6 388.9 L356.1 389.2 L354.6 389.1 L353.1 388.6 L351.6 388.1 L350.1 387.9 L348.6 388.3 L347.1 389.2 L345.6 390.7 L344.1 392.5 L342.6 394.3 L341.1 395.8 L339.6 396.8 L338.1 397.2 L336.5 397.0 L335.0 396.5 Z" fill="#55565b"/>
<path d="M618.4 268.3 L619.4 268.7 L620.4 269.1 L621.4 269.3 L622.5 269.0 L623.5 268.4 L624.5 267.3 L625.5 266.1 L626.5 264.8 L627.5 263.7 L628.5 263.1 L629.5 262.9 L630.5 263.1 L631.5 263.5 L632.5 263.8 L633.5 264.0 L634.5 263.8 L635.5 263.1 L636.5 262.1 L637.5 260.9 L638.5 259.6 L639.4 258.6 L640.4 258.0 L641.4 257.8 L642.4 257.9 L643.4 258.3 L644.4 258.7 L645.3 258.9 L646.3 258.6 L647.3 258.0 L648.3 257.0 L649.2 255.8 L650.2 254.6 L651.2 253.5 L652.1 252.9 L653.1 252.7 L654.1 252.9 L655.0 253.3 L656.0 253.6 L656.9 253.8 L657.9 253.6 L658.9 253.0 L659.8 252.0 L660.8 250.8 L661.7 249.6 L662.7 248.6 L663.6 248.0 L664.6 247.8 L665.5 247.9 L666.4 248.3 L667.4 248.7 L668.3 248.8 L669.3 248.6 L670.2 248.0 L671.1 247.0 L672.1 245.9 L673.0 244.7 L673.9 243.7 L674.9 243.1 L675.8 242.9 L676.7 243.1 L677.7 243.4 L678.6 243.8 L679.5 244.0 L680.4 243.8 L681.3 243.2 L682.3 242.2 L683.2 241.0 L684.1 239.9 L685.0 239.0 L685.9 238.4 L686.8 238.2 L687.8 238.3 L688.7 238.7 L689.6 239.0 L690.5 239.2 L691.4 239.0 L692.3 238.4 L693.2 237.4 L694.1 236.3 L695.0 235.2 L695.9 234.3 L696.8 233.7 L697.7 233.5 L698.6 233.6 L699.5 234.0 L700.4 234.3 L701.3 234.5 L702.1 234.3 L703.0 233.7 L703.9 232.8 L704.8 231.7 L705.7 230.6 L706.6 229.7 L707.4 229.1 L708.3 228.9 L709.2 229.1 L710.1 229.4 L711.0 229.7 L711.8 229.9 L712.7 229.7 L713.6 229.1 L714.5 228.2 L715.3 227.1 L716.2 226.0 L717.1 225.2 L717.9 224.6 L718.8 224.4 L719.6 224.5 L720.5 224.9 L721.4 225.2 L722.2 225.3 L723.1 225.1 L723.9 224.6 L724.8 223.7 L725.7 222.6 L726.5 221.6 L727.4 220.7 L728.2 220.2 L729.1 220.0 L729.9 220.1 L730.7 220.4 L731.6 220.7 L732.4 220.9 L733.3 220.7 L734.1 220.1 L735.0 219.3 L735.8 218.2 L736.6 217.2 L737.5 216.4 L738.3 215.8 L739.1 215.6 L740.0 215.8 L740.8 216.1 L741.6 216.4 L742.5 216.5 L743.3 216.3 L744.1 215.8 L744.9 214.9 L745.8 213.9 L746.6 212.9 L747.4 212.1 L748.2 211.5 L749.1 211.4 L749.9 211.5 L750.7 211.8 L751.5 212.1 L752.3 212.2 L753.1 212.0 L754.0 211.5 L754.8 210.7 L755.6 209.7 L756.4 208.7 L757.2 207.9 L758.0 207.3 L758.8 207.2 L759.6 207.3 L760.4 207.6 L761.2 207.9 L762.0 208.0 L762.8 207.8 L763.6 207.3 L764.4 206.5 L765.2 205.5 L766.0 204.5 L766.8 203.7 L767.6 203.2 L768.4 203.0 L769.2 203.2 L770.0 203.4 L770.7 203.7 L771.5 203.8 L772.3 203.6 L773.1 203.1 L773.9 202.3 L774.7 201.4 L775.5 200.4 L776.2 199.7 L777.0 199.2 L777.8 199.0 L778.6 199.1 L779.3 199.4 L780.1 199.6 L780.9 199.7 L781.7 199.5 L782.4 199.0 L783.2 198.3 L784.0 197.3 L784.8 196.4 L785.5 195.7 L786.3 195.2 L787.0 195.0 L787.8 195.1 L788.6 195.4 L789.3 195.6 L790.1 195.7 L790.9 195.5 L791.6 195.0 L792.4 194.3 L793.1 193.4 L793.9 192.5 L794.6 191.7 L795.4 191.3 L796.2 191.1 L796.9 191.2 L797.7 191.4 L798.4 191.7 L799.2 191.7 L799.9 191.6 L800.6 191.1 L801.4 190.4 L802.1 189.5 L802.9 188.6 L803.6 187.9 L804.4 187.4 L805.1 187.2 L805.8 187.3 L806.6 187.6 L807.3 187.8 L808.1 187.9 L808.8 187.7 L809.5 187.2 L810.3 186.5 L811.0 185.6 L811.7 184.8 L812.5 184.1 L813.2 183.6 L813.9 183.4 L814.6 183.5 L815.4 183.7 L816.1 184.0 L816.8 184.0 L817.5 183.9 L818.3 183.4 L819.0 182.7 L819.7 181.9 L820.4 181.0 L821.1 180.3 L821.9 179.9 L822.6 179.7 L823.3 179.8 L824.0 180.0 L824.0 181.8 L823.3 181.6 L822.6 181.5 L821.9 181.7 L821.1 182.1 L820.4 182.8 L819.7 183.7 L819.0 184.5 L818.3 185.2 L817.5 185.7 L816.8 185.8 L816.1 185.8 L815.4 185.5 L814.6 185.3 L813.9 185.2 L813.2 185.4 L812.5 185.9 L811.7 186.6 L811.0 187.4 L810.3 188.3 L809.5 189.0 L808.8 189.5 L808.1 189.7 L807.3 189.6 L806.6 189.4 L805.8 189.1 L805.1 189.0 L804.4 189.2 L803.6 189.7 L802.9 190.4 L802.1 191.3 L801.4 192.2 L800.6 192.9 L799.9 193.4 L799.2 193.5 L798.4 193.5 L797.7 193.2 L796.9 193.0 L796.2 192.9 L795.4 193.1 L794.6 193.5 L793.9 194.3 L793.1 195.2 L792.4 196.1 L791.6 196.8 L790.9 197.3 L790.1 197.5 L789.3 197.4 L788.6 197.2 L787.8 196.9 L787.0 196.8 L786.3 197.0 L785.5 197.5 L784.8 198.2 L784.0 199.1 L783.2 200.1 L782.4 200.8 L781.7 201.3 L780.9 201.5 L780.1 201.4 L779.3 201.2 L778.6 200.9 L777.8 200.8 L777.0 201.0 L776.2 201.5 L775.5 202.2 L774.7 203.2 L773.9 204.1 L773.1 204.9 L772.3 205.4 L771.5 205.6 L770.7 205.5 L770.0 205.2 L769.2 205.0 L768.4 204.8 L767.6 205.0 L766.8 205.5 L766.0 206.3 L765.2 207.3 L764.4 208.3 L763.6 209.1 L762.8 209.6 L762.0 209.8 L761.2 209.7 L760.4 209.4 L759.6 209.1 L758.8 209.0 L758.0 209.1 L757.2 209.7 L756.4 210.5 L755.6 211.5 L754.8 212.5 L754.0 213.3 L753.1 213.8 L752.3 214.0 L751.5 213.9 L750.7 213.6 L749.9 213.3 L749.1 213.2 L748.2 213.3 L747.4 213.9 L746.6 214.7 L745.8 215.7 L744.9 216.7 L744.1 217.6 L743.3 218.1 L742.5 218.3 L741.6 218.2 L740.8 217.9 L740.0 217.6 L739.1 217.4 L738.3 217.6 L737.5 218.2 L736.6 219.0 L735.8 220.0 L735.0 221.1 L734.1 221.9 L733.3 222.5 L732.4 222.7 L731.6 222.5 L730.7 222.2 L729.9 221.9 L729.1 221.8 L728.2 222.0 L727.4 222.5 L726.5 223.4 L725.7 224.4 L724.8 225.5 L723.9 226.4 L723.1 226.9 L722.2 227.1 L721.4 227.0 L720.5 226.7 L719.6 226.3 L718.8 226.2 L717.9 226.4 L717.1 227.0 L716.2 227.8 L715.3 228.9 L714.5 230.0 L713.6 230.9 L712.7 231.5 L711.8 231.7 L711.0 231.5 L710.1 231.2 L709.2 230.9 L708.3 230.7 L707.4 230.9 L706.6 231.5 L705.7 232.4 L704.8 233.5 L703.9 234.6 L703.0 235.5 L702.1 236.1 L701.3 236.3 L700.4 236.1 L699.5 235.8 L698.6 235.4 L697.7 235.3 L696.8 235.5 L695.9 236.1 L695.0 237.0 L694.1 238.1 L693.2 239.2 L692.3 240.2 L691.4 240.8 L690.5 241.0 L689.6 240.8 L688.7 240.5 L687.8 240.1 L686.8 240.0 L685.9 240.2 L685.0 240.8 L684.1 241.7 L683.2 242.8 L682.3 244.0 L681.3 245.0 L680.4 245.6 L679.5 245.8 L678.6 245.6 L677.7 245.2 L676.7 244.9 L675.8 244.7 L674.9 244.9 L673.9 245.5 L673.0 246.5 L672.1 247.7 L671.1 248.8 L670.2 249.8 L669.3 250.4 L668.3 250.6 L667.4 250.5 L666.4 250.1 L665.5 249.7 L664.6 249.6 L663.6 249.8 L662.7 250.4 L661.7 251.4 L660.8 252.6 L659.8 253.8 L658.9 254.8 L657.9 255.4 L656.9 255.6 L656.0 255.4 L655.0 255.1 L654.1 254.7 L653.1 254.5 L652.1 254.7 L651.2 255.3 L650.2 256.4 L649.2 257.6 L648.3 258.8 L647.3 259.8 L646.3 260.4 L645.3 260.7 L644.4 260.5 L643.4 260.1 L642.4 259.7 L641.4 259.6 L640.4 259.8 L639.4 260.4 L638.5 261.4 L637.5 262.7 L636.5 263.9 L635.5 264.9 L634.5 265.6 L633.5 265.8 L632.5 265.6 L631.5 265.3 L630.5 264.9 L629.5 264.7 L628.5 264.9 L627.5 265.5 L626.5 266.6 L625.5 267.9 L624.5 269.1 L623.5 270.2 L622.5 270.8 L621.4 271.1 L620.4 270.9 L619.4 270.5 L618.4 270.1 Z" fill="#d9a6aa"/>
<path d="M194.0 343.0 L193.0 338.0 L203.0 333.3 L695.0 154.0 L824.0 180.0 L823.3 179.8 L822.6 179.7 L821.9 179.9 L821.1 180.3 L820.4 181.0 L819.7 181.9 L819.0 182.7 L818.3 183.4 L817.5 183.9 L816.8 184.0 L816.1 184.0 L815.4 183.7 L814.6 183.5 L813.9 183.4 L813.2 183.6 L812.5 184.1 L811.7 184.8 L811.0 185.6 L810.3 186.5 L809.5 187.2 L808.8 187.7 L808.1 187.9 L807.3 187.8 L806.6 187.6 L805.8 187.3 L805.1 187.2 L804.4 187.4 L803.6 187.9 L802.9 188.6 L802.1 189.5 L801.4 190.4 L800.6 191.1 L799.9 191.6 L799.2 191.7 L798.4 191.7 L797.7 191.4 L796.9 191.2 L796.2 191.1 L795.4 191.3 L794.6 191.7 L793.9 192.5 L793.1 193.4 L792.4 194.3 L791.6 195.0 L790.9 195.5 L790.1 195.7 L789.3 195.6 L788.6 195.4 L787.8 195.1 L787.0 195.0 L786.3 195.2 L785.5 195.7 L784.8 196.4 L784.0 197.3 L783.2 198.3 L782.4 199.0 L781.7 199.5 L780.9 199.7 L780.1 199.6 L779.3 199.4 L778.6 199.1 L777.8 199.0 L777.0 199.2 L776.2 199.7 L775.5 200.4 L774.7 201.4 L773.9 202.3 L773.1 203.1 L772.3 203.6 L771.5 203.8 L770.7 203.7 L770.0 203.4 L769.2 203.2 L768.4 203.0 L767.6 203.2 L766.8 203.7 L766.0 204.5 L765.2 205.5 L764.4 206.5 L763.6 207.3 L762.8 207.8 L762.0 208.0 L761.2 207.9 L760.4 207.6 L759.6 207.3 L758.8 207.2 L758.0 207.3 L757.2 207.9 L756.4 208.7 L755.6 209.7 L754.8 210.7 L754.0 211.5 L753.1 212.0 L752.3 212.2 L751.5 212.1 L750.7 211.8 L749.9 211.5 L749.1 211.4 L748.2 211.5 L747.4 212.1 L746.6 212.9 L745.8 213.9 L744.9 214.9 L744.1 215.8 L743.3 216.3 L742.5 216.5 L741.6 216.4 L740.8 216.1 L740.0 215.8 L739.1 215.6 L738.3 215.8 L737.5 216.4 L736.6 217.2 L735.8 218.2 L735.0 219.3 L734.1 220.1 L733.3 220.7 L732.4 220.9 L731.6 220.7 L730.7 220.4 L729.9 220.1 L729.1 220.0 L728.2 220.2 L727.4 220.7 L726.5 221.6 L725.7 222.6 L724.8 223.7 L723.9 224.6 L723.1 225.1 L722.2 225.3 L721.4 225.2 L720.5 224.9 L719.6 224.5 L718.8 224.4 L717.9 224.6 L717.1 225.2 L716.2 226.0 L715.3 227.1 L714.5 228.2 L713.6 229.1 L712.7 229.7 L711.8 229.9 L711.0 229.7 L710.1 229.4 L709.2 229.1 L708.3 228.9 L707.4 229.1 L706.6 229.7 L705.7 230.6 L704.8 231.7 L703.9 232.8 L703.0 233.7 L702.1 234.3 L701.3 234.5 L700.4 234.3 L699.5 234.0 L698.6 233.6 L697.7 233.5 L696.8 233.7 L695.9 234.3 L695.0 235.2 L694.1 236.3 L693.2 237.4 L692.3 238.4 L691.4 239.0 L690.5 239.2 L689.6 239.0 L688.7 238.7 L687.8 238.3 L686.8 238.2 L685.9 238.4 L685.0 239.0 L684.1 239.9 L683.2 241.0 L682.3 242.2 L681.3 243.2 L680.4 243.8 L679.5 244.0 L678.6 243.8 L677.7 243.4 L676.7 243.1 L675.8 242.9 L674.9 243.1 L673.9 243.7 L673.0 244.7 L672.1 245.9 L671.1 247.0 L670.2 248.0 L669.3 248.6 L668.3 248.8 L667.4 248.7 L666.4 248.3 L665.5 247.9 L664.6 247.8 L663.6 248.0 L662.7 248.6 L661.7 249.6 L660.8 250.8 L659.8 252.0 L658.9 253.0 L657.9 253.6 L656.9 253.8 L656.0 253.6 L655.0 253.3 L654.1 252.9 L653.1 252.7 L652.1 252.9 L651.2 253.5 L650.2 254.6 L649.2 255.8 L648.3 257.0 L647.3 258.0 L646.3 258.6 L645.3 258.9 L644.4 258.7 L643.4 258.3 L642.4 257.9 L641.4 257.8 L640.4 258.0 L639.4 258.6 L638.5 259.6 L637.5 260.9 L636.5 262.1 L635.5 263.1 L634.5 263.8 L633.5 264.0 L632.5 263.8 L631.5 263.5 L630.5 263.1 L629.5 262.9 L628.5 263.1 L627.5 263.7 L626.5 264.8 L625.5 266.1 L624.5 267.3 L623.5 268.4 L622.5 269.0 L621.4 269.3 L620.4 269.1 L619.4 268.7 L618.4 268.3 L617.4 268.1 L616.4 268.3 L615.3 269.0 L614.3 270.1 L613.3 271.4 L612.3 272.7 L611.2 273.7 L610.2 274.4 L609.2 274.6 L608.1 274.4 L607.1 274.0 L606.0 273.6 L605.0 273.5 L604.0 273.7 L602.9 274.4 L601.9 275.4 L600.8 276.8 L599.8 278.1 L598.7 279.2 L597.7 279.9 L596.6 280.1 L595.6 279.9 L594.5 279.5 L593.5 279.1 L592.4 278.9 L591.3 279.1 L590.3 279.8 L589.2 280.9 L588.1 282.3 L587.1 283.6 L586.0 284.7 L584.9 285.4 L583.8 285.7 L582.8 285.5 L581.7 285.1 L580.6 284.6 L579.5 284.4 L578.4 284.7 L577.4 285.4 L576.3 286.5 L575.2 287.9 L574.1 289.2 L573.0 290.4 L571.9 291.1 L570.8 291.3 L569.7 291.2 L568.6 290.7 L567.5 290.3 L566.4 290.1 L565.3 290.3 L564.2 291.1 L563.1 292.2 L562.0 293.6 L560.8 295.0 L559.7 296.2 L558.6 296.9 L557.5 297.1 L556.4 296.9 L555.2 296.5 L554.1 296.1 L553.0 295.9 L551.9 296.1 L550.7 296.9 L549.6 298.0 L548.5 299.5 L547.3 300.9 L546.2 302.1 L545.1 302.8 L543.9 303.1 L542.8 302.9 L541.6 302.4 L540.5 302.0 L539.3 301.8 L538.2 302.0 L537.0 302.8 L535.9 304.0 L534.7 305.4 L533.5 306.9 L532.4 308.1 L531.2 308.8 L530.0 309.1 L528.9 308.9 L527.7 308.5 L526.5 308.0 L525.4 307.8 L524.2 308.1 L523.0 308.8 L521.8 310.0 L520.6 311.5 L519.5 313.0 L518.3 314.2 L517.1 315.0 L515.9 315.3 L514.7 315.1 L513.5 314.6 L512.3 314.2 L511.1 314.0 L509.9 314.2 L508.7 315.0 L507.5 316.2 L506.3 317.7 L505.1 319.2 L503.9 320.5 L502.7 321.3 L501.4 321.5 L500.2 321.4 L499.0 320.9 L497.8 320.4 L496.6 320.2 L495.3 320.5 L494.1 321.3 L492.9 322.6 L491.6 324.1 L490.4 325.6 L489.2 326.9 L487.9 327.7 L486.7 328.0 L485.4 327.8 L484.2 327.3 L482.9 326.9 L481.7 326.7 L480.4 326.9 L479.2 327.7 L477.9 329.0 L476.7 330.6 L475.4 332.1 L474.1 333.4 L472.9 334.3 L471.6 334.5 L470.3 334.4 L469.0 333.9 L467.8 333.4 L466.5 333.2 L465.2 333.5 L463.9 334.3 L462.6 335.6 L461.4 337.2 L460.1 338.8 L458.8 340.1 L457.5 341.0 L456.2 341.3 L454.9 341.1 L453.6 340.6 L452.3 340.1 L451.0 339.9 L449.7 340.2 L448.3 341.1 L447.0 342.4 L445.7 344.0 L444.4 345.6 L443.1 347.0 L441.8 347.8 L440.4 348.1 L439.1 347.9 L437.8 347.4 L436.4 347.0 L435.1 346.8 L433.8 347.1 L432.4 347.9 L431.1 349.3 L429.7 350.9 L428.4 352.6 L427.0 353.9 L425.7 354.8 L424.3 355.1 L423.0 354.9 L421.6 354.5 L420.2 354.0 L418.9 353.8 L417.5 354.1 L416.1 355.0 L414.8 356.3 L413.4 358.0 L412.0 359.7 L410.6 361.1 L409.2 362.0 L407.8 362.3 L406.5 362.1 L405.1 361.6 L403.7 361.1 L402.3 361.0 L400.9 361.3 L399.5 362.2 L398.1 363.6 L396.7 365.3 L395.2 367.0 L393.8 368.4 L392.4 369.3 L391.0 369.6 L389.6 369.4 L388.2 369.0 L386.7 368.5 L385.3 368.3 L383.9 368.6 L382.4 369.5 L381.0 371.0 L379.5 372.7 L378.1 374.4 L376.7 375.9 L375.2 376.8 L373.8 377.1 L372.3 376.9 L370.8 376.5 L369.4 376.0 L367.9 375.8 L366.5 376.1 L365.0 377.1 L363.5 378.5 L362.0 380.3 L360.6 382.0 L359.1 383.5 L357.6 384.5 L356.1 384.8 L354.6 384.6 L353.1 384.1 L351.6 383.7 L350.1 383.5 L348.6 383.8 L347.1 384.8 L345.6 386.3 L344.1 388.0 L342.6 389.8 L341.1 391.3 L339.6 392.3 L338.1 392.7 L336.5 392.5 L335.0 392.0 Z" fill="url(#gCoverTop)"/>
<clipPath id="topClip"><path d="M194.0 343.0 L193.0 338.0 L203.0 333.3 L695.0 154.0 L824.0 180.0 L823.3 179.8 L822.6 179.7 L821.9 179.9 L821.1 180.3 L820.4 181.0 L819.7 181.9 L819.0 182.7 L818.3 183.4 L817.5 183.9 L816.8 184.0 L816.1 184.0 L815.4 183.7 L814.6 183.5 L813.9 183.4 L813.2 183.6 L812.5 184.1 L811.7 184.8 L811.0 185.6 L810.3 186.5 L809.5 187.2 L808.8 187.7 L808.1 187.9 L807.3 187.8 L806.6 187.6 L805.8 187.3 L805.1 187.2 L804.4 187.4 L803.6 187.9 L802.9 188.6 L802.1 189.5 L801.4 190.4 L800.6 191.1 L799.9 191.6 L799.2 191.7 L798.4 191.7 L797.7 191.4 L796.9 191.2 L796.2 191.1 L795.4 191.3 L794.6 191.7 L793.9 192.5 L793.1 193.4 L792.4 194.3 L791.6 195.0 L790.9 195.5 L790.1 195.7 L789.3 195.6 L788.6 195.4 L787.8 195.1 L787.0 195.0 L786.3 195.2 L785.5 195.7 L784.8 196.4 L784.0 197.3 L783.2 198.3 L782.4 199.0 L781.7 199.5 L780.9 199.7 L780.1 199.6 L779.3 199.4 L778.6 199.1 L777.8 199.0 L777.0 199.2 L776.2 199.7 L775.5 200.4 L774.7 201.4 L773.9 202.3 L773.1 203.1 L772.3 203.6 L771.5 203.8 L770.7 203.7 L770.0 203.4 L769.2 203.2 L768.4 203.0 L767.6 203.2 L766.8 203.7 L766.0 204.5 L765.2 205.5 L764.4 206.5 L763.6 207.3 L762.8 207.8 L762.0 208.0 L761.2 207.9 L760.4 207.6 L759.6 207.3 L758.8 207.2 L758.0 207.3 L757.2 207.9 L756.4 208.7 L755.6 209.7 L754.8 210.7 L754.0 211.5 L753.1 212.0 L752.3 212.2 L751.5 212.1 L750.7 211.8 L749.9 211.5 L749.1 211.4 L748.2 211.5 L747.4 212.1 L746.6 212.9 L745.8 213.9 L744.9 214.9 L744.1 215.8 L743.3 216.3 L742.5 216.5 L741.6 216.4 L740.8 216.1 L740.0 215.8 L739.1 215.6 L738.3 215.8 L737.5 216.4 L736.6 217.2 L735.8 218.2 L735.0 219.3 L734.1 220.1 L733.3 220.7 L732.4 220.9 L731.6 220.7 L730.7 220.4 L729.9 220.1 L729.1 220.0 L728.2 220.2 L727.4 220.7 L726.5 221.6 L725.7 222.6 L724.8 223.7 L723.9 224.6 L723.1 225.1 L722.2 225.3 L721.4 225.2 L720.5 224.9 L719.6 224.5 L718.8 224.4 L717.9 224.6 L717.1 225.2 L716.2 226.0 L715.3 227.1 L714.5 228.2 L713.6 229.1 L712.7 229.7 L711.8 229.9 L711.0 229.7 L710.1 229.4 L709.2 229.1 L708.3 228.9 L707.4 229.1 L706.6 229.7 L705.7 230.6 L704.8 231.7 L703.9 232.8 L703.0 233.7 L702.1 234.3 L701.3 234.5 L700.4 234.3 L699.5 234.0 L698.6 233.6 L697.7 233.5 L696.8 233.7 L695.9 234.3 L695.0 235.2 L694.1 236.3 L693.2 237.4 L692.3 238.4 L691.4 239.0 L690.5 239.2 L689.6 239.0 L688.7 238.7 L687.8 238.3 L686.8 238.2 L685.9 238.4 L685.0 239.0 L684.1 239.9 L683.2 241.0 L682.3 242.2 L681.3 243.2 L680.4 243.8 L679.5 244.0 L678.6 243.8 L677.7 243.4 L676.7 243.1 L675.8 242.9 L674.9 243.1 L673.9 243.7 L673.0 244.7 L672.1 245.9 L671.1 247.0 L670.2 248.0 L669.3 248.6 L668.3 248.8 L667.4 248.7 L666.4 248.3 L665.5 247.9 L664.6 247.8 L663.6 248.0 L662.7 248.6 L661.7 249.6 L660.8 250.8 L659.8 252.0 L658.9 253.0 L657.9 253.6 L656.9 253.8 L656.0 253.6 L655.0 253.3 L654.1 252.9 L653.1 252.7 L652.1 252.9 L651.2 253.5 L650.2 254.6 L649.2 255.8 L648.3 257.0 L647.3 258.0 L646.3 258.6 L645.3 258.9 L644.4 258.7 L643.4 258.3 L642.4 257.9 L641.4 257.8 L640.4 258.0 L639.4 258.6 L638.5 259.6 L637.5 260.9 L636.5 262.1 L635.5 263.1 L634.5 263.8 L633.5 264.0 L632.5 263.8 L631.5 263.5 L630.5 263.1 L629.5 262.9 L628.5 263.1 L627.5 263.7 L626.5 264.8 L625.5 266.1 L624.5 267.3 L623.5 268.4 L622.5 269.0 L621.4 269.3 L620.4 269.1 L619.4 268.7 L618.4 268.3 L617.4 268.1 L616.4 268.3 L615.3 269.0 L614.3 270.1 L613.3 271.4 L612.3 272.7 L611.2 273.7 L610.2 274.4 L609.2 274.6 L608.1 274.4 L607.1 274.0 L606.0 273.6 L605.0 273.5 L604.0 273.7 L602.9 274.4 L601.9 275.4 L600.8 276.8 L599.8 278.1 L598.7 279.2 L597.7 279.9 L596.6 280.1 L595.6 279.9 L594.5 279.5 L593.5 279.1 L592.4 278.9 L591.3 279.1 L590.3 279.8 L589.2 280.9 L588.1 282.3 L587.1 283.6 L586.0 284.7 L584.9 285.4 L583.8 285.7 L582.8 285.5 L581.7 285.1 L580.6 284.6 L579.5 284.4 L578.4 284.7 L577.4 285.4 L576.3 286.5 L575.2 287.9 L574.1 289.2 L573.0 290.4 L571.9 291.1 L570.8 291.3 L569.7 291.2 L568.6 290.7 L567.5 290.3 L566.4 290.1 L565.3 290.3 L564.2 291.1 L563.1 292.2 L562.0 293.6 L560.8 295.0 L559.7 296.2 L558.6 296.9 L557.5 297.1 L556.4 296.9 L555.2 296.5 L554.1 296.1 L553.0 295.9 L551.9 296.1 L550.7 296.9 L549.6 298.0 L548.5 299.5 L547.3 300.9 L546.2 302.1 L545.1 302.8 L543.9 303.1 L542.8 302.9 L541.6 302.4 L540.5 302.0 L539.3 301.8 L538.2 302.0 L537.0 302.8 L535.9 304.0 L534.7 305.4 L533.5 306.9 L532.4 308.1 L531.2 308.8 L530.0 309.1 L528.9 308.9 L527.7 308.5 L526.5 308.0 L525.4 307.8 L524.2 308.1 L523.0 308.8 L521.8 310.0 L520.6 311.5 L519.5 313.0 L518.3 314.2 L517.1 315.0 L515.9 315.3 L514.7 315.1 L513.5 314.6 L512.3 314.2 L511.1 314.0 L509.9 314.2 L508.7 315.0 L507.5 316.2 L506.3 317.7 L505.1 319.2 L503.9 320.5 L502.7 321.3 L501.4 321.5 L500.2 321.4 L499.0 320.9 L497.8 320.4 L496.6 320.2 L495.3 320.5 L494.1 321.3 L492.9 322.6 L491.6 324.1 L490.4 325.6 L489.2 326.9 L487.9 327.7 L486.7 328.0 L485.4 327.8 L484.2 327.3 L482.9 326.9 L481.7 326.7 L480.4 326.9 L479.2 327.7 L477.9 329.0 L476.7 330.6 L475.4 332.1 L474.1 333.4 L472.9 334.3 L471.6 334.5 L470.3 334.4 L469.0 333.9 L467.8 333.4 L466.5 333.2 L465.2 333.5 L463.9 334.3 L462.6 335.6 L461.4 337.2 L460.1 338.8 L458.8 340.1 L457.5 341.0 L456.2 341.3 L454.9 341.1 L453.6 340.6 L452.3 340.1 L451.0 339.9 L449.7 340.2 L448.3 341.1 L447.0 342.4 L445.7 344.0 L444.4 345.6 L443.1 347.0 L441.8 347.8 L440.4 348.1 L439.1 347.9 L437.8 347.4 L436.4 347.0 L435.1 346.8 L433.8 347.1 L432.4 347.9 L431.1 349.3 L429.7 350.9 L428.4 352.6 L427.0 353.9 L425.7 354.8 L424.3 355.1 L423.0 354.9 L421.6 354.5 L420.2 354.0 L418.9 353.8 L417.5 354.1 L416.1 355.0 L414.8 356.3 L413.4 358.0 L412.0 359.7 L410.6 361.1 L409.2 362.0 L407.8 362.3 L406.5 362.1 L405.1 361.6 L403.7 361.1 L402.3 361.0 L400.9 361.3 L399.5 362.2 L398.1 363.6 L396.7 365.3 L395.2 367.0 L393.8 368.4 L392.4 369.3 L391.0 369.6 L389.6 369.4 L388.2 369.0 L386.7 368.5 L385.3 368.3 L383.9 368.6 L382.4 369.5 L381.0 371.0 L379.5 372.7 L378.1 374.4 L376.7 375.9 L375.2 376.8 L373.8 377.1 L372.3 376.9 L370.8 376.5 L369.4 376.0 L367.9 375.8 L366.5 376.1 L365.0 377.1 L363.5 378.5 L362.0 380.3 L360.6 382.0 L359.1 383.5 L357.6 384.5 L356.1 384.8 L354.6 384.6 L353.1 384.1 L351.6 383.7 L350.1 383.5 L348.6 383.8 L347.1 384.8 L345.6 386.3 L344.1 388.0 L342.6 389.8 L341.1 391.3 L339.6 392.3 L338.1 392.7 L336.5 392.5 L335.0 392.0 Z"/></clipPath>
<g clip-path="url(#topClip)" fill="none" stroke="#d2d6dd" stroke-width="1.8" filter="url(#blur1)" opacity="0.9">
<path d="M198.0 341.0 L202.5 340.0 L206.7 338.9 L210.4 337.6 L213.4 336.1 L216.1 334.5 L218.7 332.9 L221.5 331.4 L224.8 330.0 L228.6 328.8 L232.8 327.8 L237.2 326.9 L241.4 325.9 L245.2 324.8 L248.4 323.5 L251.1 322.0 L253.6 320.4 L256.1 318.9 L258.9 317.5 L262.3 316.3 L266.2 315.3 L270.4 314.4 L274.6 313.5 L278.5 312.5 L281.8 311.3 L284.7 309.9 L287.1 308.5 L289.3 307.0 L291.8 305.5 L294.8 304.3 L298.3 303.2 L302.2 302.3 L306.3 301.4 L310.3 300.6 L313.8 299.5 L316.8 298.3 L319.2 297.0 L321.4 295.5 L323.6 294.1 L326.1 292.8 L329.2 291.7 L332.8 290.7 L336.7 289.9 L340.7 289.1 L344.3 288.2 L347.5 287.1 L350.0 285.9 L352.2 284.5 L354.2 283.1 L356.4 281.8 L359.1 280.7 L362.3 279.7 L366.0 278.8 L369.8 278.0 L373.5 277.2 L376.8 276.3 L379.6 275.2 L381.8 273.9 L383.8 272.6 L385.7 271.3 L388.0 270.1 L390.8 269.1 L394.2 268.2 L397.8 267.4 L401.5 266.6 L405.0 265.8 L407.9 264.8 L410.3 263.7 L412.2 262.5 L414.0 261.2 L416.0 260.0 L418.4 258.9 L421.4 258.0 L424.8 257.2 L428.4 256.4 L431.9 255.7 L435.0 254.8 L437.6 253.8 L439.6 252.7 L441.4 251.5 L443.1 250.2 L445.2 249.1 L447.7 248.2 L450.8 247.3 L454.3 246.6 L457.8 245.9 L461.0 245.1 L463.7 244.3 L465.9 243.2 L467.7 242.1 L469.3 240.9 L471.1 239.8 L473.3 238.7 L476.0 237.9 L479.2 237.1 L482.6 236.5 L485.9 235.8 L488.8 235.0 L491.2 234.1 L493.1 233.0 L494.7 231.9 L496.2 230.7 L498.1 229.7 L500.4 228.8 L503.3 228.0 L506.5 227.4 L509.8 226.7 L512.9 226.0 L515.5 225.2 L517.6 224.2 L519.2 223.2 L520.6 222.1 L522.2 221.0 L524.2 220.1 L526.7 219.2 L529.7 218.6 L532.9 217.9 L536.0 217.3 L538.8 216.6 L541.0 215.7 L542.8 214.7 L544.2 213.7 L545.6 212.6 L547.3 211.7 L549.4 210.8 L552.1 210.1 L555.1 209.5 L558.2 208.9 L561.2 208.2 L563.6 207.4 L565.5 206.6 L567.0 205.6 L568.3 204.6 L569.7 203.6 L571.5 202.7 L573.8 201.9 L576.6 201.3 L579.7 200.7 L582.7 200.1 L585.3 199.4 L587.4 198.6 L589.0 197.7 L590.3 196.8 L591.5 195.8 L593.0 194.9 L595.0 194.1 L597.5 193.4 L600.4 192.8 L603.3 192.2 L606.1 191.6 L608.4 190.9 L610.2 190.1 L611.6 189.2 L612.7 188.2 L614.0 187.3 L615.7 186.5 L617.8 185.8 L620.4 185.2 L623.3 184.6 L626.1 184.1 L628.7 183.4 L630.7 182.7 L632.2 181.9 L633.3 180.9 L634.4 180.0 L635.8 179.2 L637.6 178.4 L639.9 177.8 L642.6 177.2 L645.5 176.7 L648.1 176.1 L650.3 175.5 L652.0 174.7 L653.3 173.9 L654.3 173.0 L655.4 172.1 L656.9 171.3 L658.9 170.7 L661.4 170.1 L664.1 169.6 L666.8 169.1 L669.2 168.5 L671.1 167.8 L672.5 167.0 L673.6 166.2 L674.6 165.3 L675.8 164.5 L677.5 163.8 L679.6 163.2 L682.2 162.7 L684.9 162.2 L687.4 161.6 L689.5 161.0 L691.1 160.3 L692.3 159.5 L693.2 158.7 L694.2 157.9 L695.6 157.1 L697.4 156.5 L699.7 156.0 L702.3 155.5"/>
<path d="M211.6 346.1 L214.3 344.4 L217.3 342.8 L220.8 341.5 L224.8 340.3 L229.2 339.3 L233.7 338.3 L237.9 337.3 L241.6 336.1 L244.7 334.6 L247.4 333.1 L249.9 331.4 L252.5 329.9 L255.5 328.4 L259.1 327.2 L263.2 326.2 L267.5 325.3 L271.8 324.3 L275.6 323.3 L278.9 322.0 L281.6 320.6 L284.0 319.0 L286.4 317.5 L289.0 316.0 L292.2 314.8 L295.9 313.7 L300.0 312.8 L304.2 311.9 L308.1 311.0 L311.6 309.8 L314.4 308.5 L316.8 307.1 L319.0 305.6 L321.3 304.2 L324.1 302.9 L327.4 301.8 L331.1 300.8 L335.2 300.0 L339.1 299.1 L342.7 298.1 L345.8 297.0 L348.3 295.6 L350.4 294.2 L352.5 292.8 L354.9 291.5 L357.7 290.3 L361.1 289.3 L364.9 288.5 L368.9 287.7 L372.6 286.8 L375.8 285.8 L378.4 284.6 L380.6 283.3 L382.6 281.9 L384.6 280.6 L387.1 279.4 L390.1 278.3 L393.6 277.5 L397.4 276.7 L401.1 275.9 L404.5 275.0 L407.3 273.9 L409.6 272.7 L411.5 271.4 L413.4 270.1 L415.5 268.9 L418.1 267.8 L421.2 266.9 L424.8 266.1 L428.5 265.3 L431.9 264.5 L435.0 263.6 L437.4 262.5 L439.4 261.3 L441.1 260.0 L443.0 258.8 L445.2 257.7 L447.9 256.7 L451.2 255.9 L454.7 255.2 L458.2 254.5 L461.4 253.6 L464.1 252.7 L466.2 251.6 L467.9 250.4 L469.6 249.1 L471.4 248.0 L473.8 247.0 L476.7 246.1 L480.0 245.4 L483.5 244.7 L486.8 244.0 L489.6 243.1 L491.9 242.1 L493.7 241.0 L495.3 239.8 L496.9 238.7 L498.9 237.6 L501.5 236.7 L504.5 236.0 L507.8 235.3 L511.1 234.6 L514.1 233.9 L516.6 233.0 L518.6 232.0 L520.1 230.9 L521.6 229.7 L523.3 228.7 L525.5 227.7 L528.1 226.9 L531.3 226.2 L534.5 225.6 L537.7 224.9 L540.3 224.1 L542.5 223.2 L544.1 222.2 L545.5 221.1 L547.0 220.0 L548.8 219.0 L551.1 218.2 L553.9 217.5 L557.1 216.9 L560.2 216.2 L563.1 215.5 L565.4 214.7 L567.2 213.8 L568.6 212.7 L570.0 211.7 L571.5 210.7 L573.4 209.8 L575.9 209.1 L578.9 208.4 L582.0 207.8 L584.9 207.2 L587.5 206.5 L589.5 205.6 L591.0 204.7 L592.2 203.6 L593.5 202.7 L595.2 201.7 L597.3 200.9 L600.0 200.3 L602.9 199.7 L605.9 199.1 L608.6 198.5 L610.8 197.7 L612.5 196.8 L613.8 195.9 L615.0 194.9 L616.3 194.0 L618.1 193.1 L620.5 192.4 L623.2 191.8 L626.1 191.3 L629.0 190.7 L631.4 190.0 L633.3 189.2 L634.7 188.3 L635.8 187.4 L637.0 186.5 L638.4 185.6 L640.4 184.9 L642.9 184.2 L645.7 183.7 L648.5 183.1 L651.1 182.5 L653.2 181.8 L654.8 181.0 L656.0 180.1 L657.0 179.2 L658.2 178.3 L659.9 177.6 L662.0 176.9 L664.6 176.3 L667.4 175.8 L670.1 175.3 L672.4 174.6 L674.2 173.9 L675.5 173.1 L676.5 172.2 L677.6 171.3 L678.9 170.5 L680.7 169.8 L683.0 169.2 L685.7 168.7 L688.4 168.2 L690.9 167.6 L692.9 167.0 L694.4 166.2 L695.4 165.4 L696.4 164.5 L697.5 163.7 L698.9 163.0 L700.9 162.3 L703.4 161.8 L706.0 161.3 L708.6 160.8 L710.8 160.2 L712.5 159.6 L713.7 158.8 L714.7 158.0"/>
<path d="M225.4 351.2 L230.0 350.2 L234.2 349.0 L237.8 347.7 L240.8 346.2 L243.5 344.5 L246.0 342.8 L248.8 341.2 L252.1 339.8 L255.9 338.6 L260.2 337.6 L264.6 336.7 L268.8 335.6 L272.6 334.5 L275.8 333.1 L278.5 331.6 L280.9 330.0 L283.4 328.4 L286.2 326.9 L289.6 325.7 L293.5 324.6 L297.7 323.7 L301.9 322.8 L305.8 321.7 L309.2 320.5 L312.0 319.1 L314.3 317.6 L316.6 316.1 L319.1 314.6 L322.0 313.3 L325.5 312.2 L329.4 311.3 L333.6 310.4 L337.5 309.5 L341.1 308.4 L344.0 307.2 L346.4 305.8 L348.6 304.3 L350.8 302.8 L353.3 301.5 L356.4 300.3 L360.0 299.3 L363.9 298.5 L367.9 297.6 L371.5 296.7 L374.6 295.6 L377.2 294.3 L379.3 292.9 L381.3 291.5 L383.5 290.2 L386.1 289.0 L389.4 287.9 L393.0 287.1 L396.9 286.3 L400.6 285.4 L403.9 284.4 L406.7 283.3 L408.9 282.0 L410.8 280.7 L412.7 279.3 L415.0 278.1 L417.8 277.0 L421.1 276.1 L424.8 275.3 L428.5 274.5 L431.9 273.7 L434.9 272.7 L437.2 271.5 L439.1 270.2 L440.9 268.9 L442.8 267.7 L445.2 266.6 L448.2 265.6 L451.6 264.8 L455.2 264.0 L458.7 263.3 L461.8 262.4 L464.4 261.3 L466.4 260.2 L468.1 258.9 L469.8 257.7 L471.8 256.5 L474.4 255.5 L477.5 254.7 L480.9 253.9 L484.4 253.2 L487.7 252.4 L490.4 251.5 L492.6 250.4 L494.3 249.3 L495.9 248.0 L497.6 246.9 L499.8 245.8 L502.5 245.0 L505.7 244.2 L509.1 243.5 L512.5 242.8 L515.4 242.0 L517.8 241.0 L519.6 239.9 L521.1 238.8 L522.7 237.6 L524.5 236.6 L526.8 235.6 L529.7 234.8 L532.9 234.1 L536.2 233.5 L539.3 232.8 L541.9 231.9 L543.9 230.9 L545.5 229.8 L546.9 228.7 L548.4 227.6 L550.4 226.7 L552.9 225.8 L555.9 225.1 L559.1 224.5 L562.2 223.8 L565.0 223.1 L567.3 222.2 L569.0 221.2 L570.3 220.1 L571.7 219.0 L573.3 218.0 L575.5 217.2 L578.1 216.4 L581.2 215.8 L584.3 215.2 L587.2 214.5 L589.7 213.7 L591.6 212.8 L593.0 211.8 L594.2 210.8 L595.6 209.7 L597.4 208.8 L599.7 208.0 L602.5 207.4 L605.6 206.8 L608.5 206.2 L611.2 205.5 L613.3 204.7 L614.9 203.7 L616.1 202.7 L617.3 201.7 L618.8 200.8 L620.7 200.0 L623.2 199.3 L626.1 198.7 L629.1 198.1 L631.8 197.5 L634.1 196.8 L635.9 195.9 L637.2 195.0 L638.4 194.0 L639.6 193.1 L641.2 192.2 L643.3 191.5 L646.0 190.9 L648.8 190.3 L651.7 189.7 L654.2 189.1 L656.2 188.3 L657.6 187.5 L658.8 186.5 L659.8 185.6 L661.2 184.7 L663.0 184.0 L665.3 183.3 L668.0 182.7 L670.8 182.2 L673.5 181.6 L675.7 181.0 L677.3 180.2 L678.5 179.3 L679.5 178.4 L680.6 177.5 L682.1 176.7 L684.1 176.0 L686.5 175.4 L689.3 174.9 L692.0 174.4 L694.4 173.8 L696.3 173.1 L697.6 172.3 L698.7 171.4 L699.6 170.5 L700.8 169.7 L702.4 169.0 L704.6 168.4 L707.2 167.8 L709.9 167.3 L712.4 166.8 L714.5 166.2 L716.1 165.4 L717.2 164.6 L718.1 163.8 L719.1 162.9 L720.4 162.2 L722.2 161.5 L724.5 161.0 L727.1 160.5"/>
<path d="M239.5 356.4 L242.1 354.7 L245.0 353.1 L248.5 351.7 L252.6 350.5 L257.0 349.4 L261.5 348.4 L265.7 347.4 L269.5 346.1 L272.6 344.6 L275.2 343.0 L277.6 341.3 L280.2 339.7 L283.3 338.2 L286.9 337.0 L291.0 335.9 L295.3 335.0 L299.6 334.0 L303.4 332.9 L306.7 331.6 L309.4 330.1 L311.8 328.5 L314.1 326.9 L316.7 325.4 L319.9 324.1 L323.6 323.0 L327.7 322.1 L331.9 321.2 L335.8 320.2 L339.3 319.0 L342.1 317.7 L344.5 316.2 L346.7 314.7 L349.0 313.2 L351.7 311.8 L355.0 310.7 L358.7 309.7 L362.8 308.8 L366.8 308.0 L370.4 306.9 L373.4 305.8 L375.9 304.4 L378.0 302.9 L380.0 301.5 L382.4 300.1 L385.2 298.9 L388.6 297.9 L392.5 297.0 L396.4 296.2 L400.1 295.3 L403.3 294.2 L405.9 293.0 L408.1 291.7 L410.0 290.2 L412.0 288.9 L414.5 287.6 L417.5 286.6 L421.0 285.7 L424.8 284.9 L428.5 284.0 L431.9 283.1 L434.7 282.0 L437.0 280.8 L438.8 279.4 L440.7 278.1 L442.7 276.8 L445.3 275.7 L448.5 274.8 L452.0 274.0 L455.7 273.2 L459.2 272.4 L462.2 271.4 L464.7 270.3 L466.6 269.1 L468.3 267.7 L470.1 266.5 L472.3 265.3 L475.0 264.3 L478.3 263.5 L481.9 262.7 L485.4 262.0 L488.6 261.1 L491.2 260.2 L493.3 259.0 L495.0 257.8 L496.6 256.5 L498.4 255.4 L500.8 254.3 L503.7 253.4 L507.0 252.7 L510.5 252.0 L513.8 251.2 L516.6 250.3 L518.9 249.3 L520.6 248.2 L522.2 247.0 L523.8 245.8 L525.7 244.7 L528.3 243.8 L531.3 243.0 L534.6 242.3 L538.0 241.6 L541.0 240.8 L543.4 239.9 L545.4 238.9 L546.9 237.7 L548.3 236.6 L550.0 235.5 L552.1 234.5 L554.8 233.7 L557.9 233.0 L561.2 232.3 L564.3 231.6 L567.0 230.8 L569.1 229.9 L570.7 228.8 L572.1 227.7 L573.5 226.6 L575.3 225.6 L577.6 224.7 L580.4 224.0 L583.6 223.4 L586.7 222.7 L589.6 222.0 L591.9 221.2 L593.7 220.2 L595.0 219.1 L596.3 218.1 L597.8 217.0 L599.7 216.1 L602.2 215.4 L605.2 214.7 L608.3 214.1 L611.2 213.5 L613.8 212.7 L615.7 211.8 L617.2 210.9 L618.4 209.8 L619.7 208.8 L621.3 207.9 L623.4 207.0 L626.1 206.4 L629.0 205.8 L632.0 205.2 L634.7 204.5 L636.9 203.7 L638.6 202.8 L639.9 201.8 L641.0 200.8 L642.3 199.9 L644.1 199.0 L646.4 198.3 L649.1 197.7 L652.1 197.1 L654.9 196.5 L657.3 195.8 L659.2 195.0 L660.6 194.1 L661.6 193.2 L662.8 192.2 L664.2 191.3 L666.2 190.6 L668.6 189.9 L671.4 189.3 L674.3 188.8 L676.9 188.2 L679.0 187.5 L680.5 186.6 L681.7 185.7 L682.7 184.8 L683.8 183.9 L685.4 183.1 L687.6 182.4 L690.2 181.8 L693.0 181.3 L695.7 180.7 L698.0 180.1 L699.7 179.3 L701.0 178.5 L702.0 177.6 L703.0 176.7 L704.3 175.9 L706.1 175.1 L708.4 174.5 L711.0 174.0 L713.8 173.5 L716.2 172.9 L718.2 172.2 L719.7 171.5 L720.7 170.6 L721.6 169.7 L722.7 168.9 L724.1 168.1 L726.1 167.5 L728.6 167.0 L731.2 166.5 L733.8 165.9 L736.0 165.3 L737.7 164.7 L738.9 163.9 L739.7 163.0"/>
<path d="M253.7 361.7 L258.3 360.7 L262.5 359.5 L266.1 358.1 L269.2 356.6 L271.8 354.8 L274.3 353.1 L277.0 351.4 L280.3 350.0 L284.1 348.8 L288.4 347.7 L292.8 346.7 L297.1 345.7 L300.9 344.5 L304.1 343.0 L306.7 341.5 L309.1 339.8 L311.5 338.2 L314.3 336.7 L317.7 335.4 L321.6 334.3 L325.9 333.3 L330.1 332.4 L334.0 331.3 L337.4 330.1 L340.2 328.6 L342.5 327.1 L344.7 325.5 L347.1 323.9 L350.1 322.6 L353.5 321.5 L357.5 320.5 L361.7 319.6 L365.7 318.6 L369.2 317.5 L372.1 316.3 L374.5 314.8 L376.6 313.3 L378.7 311.8 L381.2 310.4 L384.3 309.2 L387.9 308.2 L391.9 307.3 L395.9 306.5 L399.5 305.5 L402.6 304.4 L405.2 303.0 L407.3 301.6 L409.2 300.1 L411.4 298.8 L414.0 297.5 L417.2 296.5 L420.9 295.6 L424.8 294.7 L428.5 293.9 L431.8 292.9 L434.5 291.7 L436.7 290.4 L438.5 289.0 L440.4 287.6 L442.7 286.3 L445.5 285.2 L448.8 284.3 L452.5 283.5 L456.2 282.7 L459.7 281.8 L462.6 280.7 L464.9 279.5 L466.8 278.2 L468.5 276.9 L470.4 275.6 L472.8 274.4 L475.7 273.5 L479.2 272.6 L482.8 271.9 L486.3 271.1 L489.4 270.1 L492.0 269.1 L493.9 267.9 L495.6 266.6 L497.3 265.3 L499.3 264.1 L501.8 263.1 L504.9 262.2 L508.4 261.5 L511.9 260.7 L515.1 259.9 L517.9 259.0 L520.0 257.9 L521.7 256.7 L523.2 255.4 L524.9 254.2 L527.1 253.1 L529.8 252.2 L533.0 251.5 L536.4 250.7 L539.7 250.0 L542.6 249.2 L545.0 248.2 L546.8 247.1 L548.3 245.9 L549.8 244.7 L551.6 243.6 L553.9 242.6 L556.8 241.8 L560.0 241.1 L563.3 240.4 L566.4 239.7 L569.0 238.8 L571.0 237.8 L572.5 236.7 L573.9 235.5 L575.4 234.4 L577.3 233.4 L579.8 232.6 L582.8 231.8 L586.0 231.2 L589.2 230.5 L591.9 229.7 L594.1 228.8 L595.8 227.8 L597.2 226.7 L598.5 225.6 L600.1 224.6 L602.2 223.7 L604.8 222.9 L607.9 222.3 L611.0 221.6 L614.0 220.9 L616.4 220.1 L618.2 219.2 L619.6 218.2 L620.9 217.1 L622.2 216.1 L624.0 215.1 L626.3 214.3 L629.0 213.6 L632.1 213.0 L635.1 212.4 L637.7 211.7 L639.8 210.9 L641.3 209.9 L642.5 208.9 L643.7 207.9 L645.1 206.9 L647.1 206.1 L649.6 205.3 L652.4 204.7 L655.4 204.1 L658.2 203.5 L660.5 202.8 L662.2 201.9 L663.5 200.9 L664.6 199.9 L665.8 199.0 L667.4 198.1 L669.5 197.3 L672.1 196.7 L675.0 196.1 L677.8 195.5 L680.3 194.9 L682.3 194.1 L683.8 193.2 L684.8 192.3 L685.9 191.3 L687.2 190.4 L688.9 189.6 L691.2 189.0 L693.9 188.4 L696.8 187.8 L699.4 187.2 L701.6 186.6 L703.3 185.8 L704.4 184.9 L705.4 183.9 L706.5 183.0 L707.9 182.2 L709.9 181.5 L712.3 180.9 L715.0 180.4 L717.8 179.8 L720.1 179.2 L722.0 178.5 L723.4 177.7 L724.3 176.8 L725.3 175.9 L726.4 175.0 L728.0 174.3 L730.2 173.7 L732.7 173.1 L735.4 172.6 L738.0 172.0 L740.0 171.4 L741.6 170.7 L742.7 169.8 L743.5 169.0 L744.5 168.1 L745.8 167.3 L747.6 166.7 L749.9 166.1 L752.5 165.6"/>
<path d="M268.2 367.1 L270.8 365.3 L273.7 363.7 L277.2 362.2 L281.3 361.0 L285.7 359.9 L290.3 358.9 L294.5 357.8 L298.2 356.5 L301.3 354.9 L303.9 353.2 L306.3 351.5 L308.9 349.8 L311.9 348.3 L315.5 347.1 L319.6 346.0 L324.0 345.0 L328.3 344.0 L332.1 342.8 L335.4 341.5 L338.1 339.9 L340.4 338.3 L342.7 336.6 L345.3 335.1 L348.4 333.8 L352.1 332.6 L356.2 331.7 L360.5 330.7 L364.4 329.7 L367.9 328.5 L370.7 327.1 L373.1 325.6 L375.2 324.0 L377.4 322.5 L380.1 321.1 L383.4 319.9 L387.2 318.9 L391.3 318.0 L395.3 317.1 L398.9 316.0 L401.9 314.8 L404.3 313.4 L406.4 311.9 L408.4 310.4 L410.7 309.0 L413.5 307.8 L417.0 306.7 L420.8 305.8 L424.7 304.9 L428.5 304.0 L431.7 302.9 L434.3 301.7 L436.4 300.3 L438.3 298.8 L440.2 297.4 L442.7 296.1 L445.6 295.0 L449.2 294.1 L453.0 293.3 L456.7 292.4 L460.1 291.5 L462.9 290.4 L465.1 289.1 L467.0 287.7 L468.7 286.3 L470.8 285.0 L473.4 283.9 L476.5 282.9 L480.1 282.1 L483.8 281.3 L487.3 280.4 L490.3 279.4 L492.7 278.3 L494.6 277.0 L496.3 275.7 L498.0 274.4 L500.2 273.2 L502.9 272.2 L506.2 271.3 L509.7 270.5 L513.3 269.7 L516.5 268.9 L519.1 267.9 L521.1 266.7 L522.8 265.4 L524.3 264.1 L526.2 262.9 L528.5 261.9 L531.4 261.0 L534.7 260.2 L538.2 259.4 L541.5 258.7 L544.3 257.8 L546.6 256.7 L548.3 255.5 L549.8 254.3 L551.3 253.1 L553.3 252.0 L555.8 251.0 L558.8 250.2 L562.2 249.5 L565.5 248.8 L568.5 248.0 L571.0 247.1 L572.9 246.0 L574.3 244.8 L575.7 243.6 L577.3 242.5 L579.5 241.5 L582.1 240.7 L585.3 239.9 L588.5 239.3 L591.7 238.5 L594.3 237.7 L596.4 236.7 L598.0 235.7 L599.3 234.5 L600.7 233.4 L602.5 232.4 L604.7 231.5 L607.6 230.7 L610.7 230.0 L613.9 229.4 L616.7 228.7 L619.0 227.8 L620.8 226.8 L622.1 225.7 L623.4 224.6 L624.8 223.6 L626.7 222.6 L629.2 221.8 L632.1 221.2 L635.2 220.5 L638.2 219.9 L640.7 219.1 L642.7 218.2 L644.1 217.2 L645.3 216.1 L646.5 215.1 L648.1 214.1 L650.2 213.3 L652.8 212.6 L655.8 212.0 L658.8 211.4 L661.5 210.7 L663.7 209.9 L665.3 209.0 L666.6 208.0 L667.6 206.9 L668.9 206.0 L670.7 205.1 L673.0 204.3 L675.7 203.7 L678.7 203.1 L681.5 202.5 L683.9 201.8 L685.7 201.0 L687.1 200.0 L688.1 199.1 L689.2 198.1 L690.6 197.2 L692.5 196.4 L695.0 195.7 L697.8 195.1 L700.7 194.6 L703.2 193.9 L705.3 193.2 L706.8 192.4 L707.9 191.4 L708.9 190.5 L710.1 189.5 L711.6 188.7 L713.8 188.0 L716.4 187.4 L719.1 186.9 L721.8 186.3 L724.1 185.7 L725.9 184.9 L727.1 184.0 L728.1 183.1 L729.0 182.2 L730.3 181.3 L732.1 180.6 L734.4 180.0 L737.0 179.4 L739.7 178.9 L742.2 178.3 L744.2 177.6 L745.6 176.8 L746.6 176.0 L747.5 175.1 L748.5 174.2 L749.9 173.4 L751.9 172.8 L754.3 172.2 L757.0 171.7 L759.6 171.2 L761.7 170.6 L763.4 169.9 L764.6 169.1 L765.4 168.2"/>
<path d="M283.0 372.6 L287.5 371.5 L291.8 370.3 L295.4 368.9 L298.4 367.3 L301.0 365.5 L303.5 363.7 L306.2 362.0 L309.4 360.5 L313.2 359.2 L317.5 358.1 L322.0 357.1 L326.3 356.0 L330.1 354.8 L333.3 353.3 L335.9 351.7 L338.2 349.9 L340.6 348.3 L343.4 346.7 L346.8 345.4 L350.7 344.3 L354.9 343.3 L359.2 342.3 L363.2 341.2 L366.5 339.9 L369.2 338.4 L371.5 336.8 L373.7 335.1 L376.1 333.6 L379.0 332.2 L382.5 331.0 L386.5 330.0 L390.6 329.1 L394.6 328.1 L398.2 327.0 L401.1 325.7 L403.5 324.2 L405.5 322.6 L407.6 321.0 L410.1 319.6 L413.1 318.4 L416.7 317.4 L420.7 316.4 L424.7 315.5 L428.4 314.5 L431.5 313.4 L434.0 312.0 L436.0 310.5 L438.0 309.0 L440.1 307.6 L442.7 306.3 L445.9 305.2 L449.6 304.3 L453.5 303.5 L457.2 302.6 L460.5 301.5 L463.2 300.3 L465.3 299.0 L467.2 297.5 L469.0 296.1 L471.2 294.8 L474.0 293.6 L477.3 292.7 L481.0 291.8 L484.8 291.0 L488.2 290.1 L491.1 289.0 L493.4 287.8 L495.3 286.5 L496.9 285.1 L498.8 283.7 L501.2 282.6 L504.1 281.5 L507.5 280.7 L511.2 279.9 L514.7 279.1 L517.8 278.1 L520.3 277.0 L522.3 275.8 L523.9 274.5 L525.5 273.1 L527.5 271.9 L530.0 270.9 L533.1 270.0 L536.5 269.2 L540.1 268.4 L543.3 267.6 L546.1 266.6 L548.2 265.5 L549.8 264.3 L551.3 263.0 L553.0 261.7 L555.1 260.6 L557.8 259.7 L561.0 258.9 L564.4 258.2 L567.7 257.4 L570.7 256.6 L573.0 255.6 L574.8 254.4 L576.2 253.2 L577.7 252.0 L579.4 250.8 L581.7 249.8 L584.6 249.0 L587.8 248.3 L591.2 247.6 L594.2 246.8 L596.8 245.9 L598.8 244.9 L600.3 243.7 L601.6 242.6 L603.0 241.4 L604.9 240.4 L607.4 239.5 L610.4 238.8 L613.6 238.1 L616.8 237.4 L619.6 236.6 L621.8 235.7 L623.4 234.6 L624.7 233.5 L625.9 232.3 L627.5 231.3 L629.6 230.4 L632.3 229.6 L635.3 228.9 L638.5 228.3 L641.4 227.6 L643.8 226.7 L645.6 225.8 L647.0 224.7 L648.2 223.6 L649.5 222.6 L651.2 221.6 L653.5 220.8 L656.3 220.1 L659.3 219.4 L662.3 218.8 L664.9 218.1 L667.0 217.2 L668.5 216.2 L669.7 215.2 L670.8 214.1 L672.2 213.2 L674.1 212.3 L676.6 211.6 L679.4 210.9 L682.4 210.3 L685.2 209.7 L687.5 208.9 L689.2 208.0 L690.5 207.0 L691.5 206.0 L692.6 205.0 L694.2 204.1 L696.3 203.3 L698.9 202.7 L701.8 202.1 L704.6 201.5 L707.1 200.8 L709.1 200.1 L710.5 199.1 L711.5 198.2 L712.5 197.2 L713.8 196.3 L715.5 195.4 L717.8 194.8 L720.5 194.2 L723.4 193.6 L726.0 193.0 L728.2 192.3 L729.8 191.5 L731.0 190.6 L731.9 189.6 L732.9 188.7 L734.3 187.8 L736.2 187.1 L738.7 186.5 L741.4 185.9 L744.1 185.4 L746.5 184.8 L748.4 184.0 L749.7 183.2 L750.6 182.3 L751.5 181.4 L752.6 180.5 L754.2 179.7 L756.3 179.1 L758.9 178.5 L761.6 178.0 L764.1 177.4 L766.2 176.8 L767.7 176.0 L768.8 175.2 L769.6 174.3 L770.5 173.4 L771.8 172.6 L773.6 171.9 L775.9 171.3 L778.5 170.8"/>
<path d="M298.0 378.2 L300.5 376.3 L303.4 374.6 L306.9 373.1 L310.9 371.8 L315.4 370.7 L320.0 369.7 L324.2 368.5 L328.0 367.2 L331.0 365.6 L333.6 363.9 L336.0 362.1 L338.5 360.3 L341.5 358.8 L345.1 357.5 L349.2 356.3 L353.6 355.3 L357.9 354.3 L361.8 353.1 L365.0 351.7 L367.7 350.1 L370.0 348.4 L372.2 346.7 L374.8 345.1 L377.9 343.7 L381.6 342.6 L385.7 341.6 L390.0 340.6 L394.0 339.5 L397.4 338.3 L400.2 336.9 L402.5 335.3 L404.6 333.7 L406.8 332.1 L409.5 330.6 L412.7 329.4 L416.5 328.4 L420.6 327.5 L424.7 326.5 L428.3 325.4 L431.3 324.2 L433.7 322.7 L435.7 321.2 L437.7 319.6 L439.9 318.2 L442.7 316.9 L446.2 315.8 L450.0 314.9 L454.0 314.0 L457.7 313.0 L460.9 311.9 L463.5 310.6 L465.5 309.2 L467.4 307.7 L469.3 306.2 L471.7 304.9 L474.7 303.8 L478.2 302.8 L482.0 302.0 L485.8 301.1 L489.2 300.1 L492.0 299.0 L494.2 297.6 L495.9 296.2 L497.7 294.8 L499.7 293.4 L502.2 292.3 L505.4 291.3 L508.9 290.4 L512.7 289.6 L516.2 288.7 L519.2 287.7 L521.6 286.5 L523.4 285.2 L525.0 283.8 L526.7 282.5 L528.9 281.3 L531.6 280.2 L534.9 279.3 L538.4 278.5 L542.0 277.7 L545.2 276.8 L547.8 275.8 L549.8 274.6 L551.4 273.3 L552.9 271.9 L554.7 270.7 L557.0 269.6 L559.9 268.7 L563.2 267.9 L566.7 267.1 L570.0 266.3 L572.8 265.4 L575.1 264.3 L576.7 263.1 L578.2 261.8 L579.7 260.6 L581.6 259.4 L584.1 258.5 L587.1 257.6 L590.5 256.9 L593.8 256.2 L596.8 255.4 L599.3 254.4 L601.1 253.3 L602.6 252.1 L603.9 250.9 L605.5 249.7 L607.6 248.7 L610.2 247.8 L613.4 247.1 L616.7 246.4 L619.8 245.6 L622.4 244.8 L624.5 243.8 L626.0 242.7 L627.3 241.5 L628.6 240.3 L630.4 239.3 L632.6 238.4 L635.5 237.6 L638.6 236.9 L641.8 236.2 L644.6 235.5 L646.9 234.6 L648.6 233.6 L649.9 232.5 L651.1 231.3 L652.5 230.2 L654.4 229.3 L656.9 228.5 L659.8 227.8 L662.9 227.1 L665.9 226.5 L668.4 225.7 L670.3 224.8 L671.8 223.7 L672.9 222.6 L674.1 221.6 L675.6 220.6 L677.7 219.7 L680.3 219.0 L683.3 218.4 L686.3 217.7 L689.0 217.0 L691.2 216.2 L692.8 215.3 L693.9 214.2 L695.0 213.2 L696.2 212.2 L697.9 211.3 L700.2 210.5 L703.0 209.9 L705.9 209.3 L708.7 208.6 L711.1 207.9 L712.9 207.1 L714.2 206.1 L715.3 205.1 L716.3 204.1 L717.7 203.2 L719.6 202.4 L722.0 201.7 L724.8 201.1 L727.7 200.5 L730.3 199.9 L732.3 199.1 L733.8 198.2 L734.9 197.3 L735.8 196.3 L736.9 195.4 L738.5 194.5 L740.6 193.8 L743.2 193.2 L746.0 192.6 L748.6 192.0 L750.9 191.4 L752.7 190.6 L753.9 189.7 L754.8 188.8 L755.7 187.8 L756.9 186.9 L758.7 186.2 L760.9 185.6 L763.6 185.0 L766.3 184.4 L768.8 183.9 L770.7 183.2 L772.1 182.3 L773.1 181.5 L773.9 180.5 L774.9 179.6 L776.3 178.9 L778.3 178.2 L780.7 177.6 L783.4 177.1 L785.9 176.5 L788.1 175.9 L789.7 175.2 L790.9 174.4 L791.7 173.5"/>
<path d="M313.2 383.9 L317.8 382.8 L322.1 381.5 L325.7 380.0 L328.7 378.3 L331.2 376.5 L333.6 374.6 L336.3 372.9 L339.5 371.3 L343.4 370.0 L347.7 368.9 L352.2 367.8 L356.5 366.7 L360.3 365.4 L363.4 363.9 L366.0 362.2 L368.3 360.4 L370.7 358.7 L373.4 357.1 L376.8 355.7 L380.7 354.6 L385.0 353.5 L389.3 352.5 L393.2 351.4 L396.6 350.0 L399.3 348.5 L401.5 346.8 L403.6 345.1 L406.0 343.5 L408.9 342.1 L412.4 340.9 L416.4 339.9 L420.5 338.9 L424.6 337.9 L428.1 336.7 L431.0 335.3 L433.3 333.8 L435.3 332.2 L437.4 330.6 L439.8 329.1 L442.9 327.9 L446.5 326.8 L450.5 325.8 L454.5 324.9 L458.2 323.9 L461.3 322.7 L463.7 321.3 L465.7 319.8 L467.6 318.2 L469.7 316.7 L472.2 315.4 L475.4 314.3 L479.1 313.3 L483.0 312.4 L486.8 311.5 L490.1 310.5 L492.8 309.2 L494.9 307.8 L496.7 306.3 L498.5 304.9 L500.6 303.5 L503.4 302.3 L506.7 301.3 L510.4 300.5 L514.2 299.6 L517.6 298.7 L520.5 297.6 L522.8 296.3 L524.6 294.9 L526.2 293.5 L528.1 292.1 L530.4 290.9 L533.3 289.9 L536.7 289.0 L540.4 288.2 L543.9 287.3 L547.0 286.4 L549.5 285.2 L551.4 283.9 L553.0 282.6 L554.6 281.2 L556.5 280.0 L559.0 278.9 L562.1 278.0 L565.6 277.2 L569.1 276.4 L572.3 275.5 L575.1 274.5 L577.1 273.4 L578.8 272.1 L580.2 270.8 L581.8 269.5 L583.9 268.4 L586.6 267.4 L589.8 266.6 L593.2 265.8 L596.6 265.0 L599.5 264.2 L601.8 263.1 L603.5 261.9 L604.9 260.7 L606.3 259.4 L608.0 258.3 L610.3 257.3 L613.2 256.4 L616.4 255.6 L619.8 254.9 L622.8 254.1 L625.4 253.2 L627.3 252.2 L628.8 251.0 L630.0 249.8 L631.5 248.6 L633.3 247.5 L635.8 246.6 L638.8 245.9 L642.0 245.2 L645.2 244.4 L647.9 243.6 L650.1 242.7 L651.7 241.6 L653.0 240.4 L654.2 239.3 L655.7 238.2 L657.8 237.2 L660.4 236.4 L663.5 235.7 L666.6 235.1 L669.5 234.4 L671.9 233.5 L673.8 232.5 L675.1 231.4 L676.2 230.3 L677.4 229.2 L679.1 228.2 L681.4 227.4 L684.2 226.7 L687.3 226.0 L690.2 225.4 L692.9 224.6 L694.9 223.7 L696.4 222.7 L697.5 221.7 L698.6 220.6 L699.9 219.6 L701.8 218.7 L704.3 217.9 L707.1 217.3 L710.1 216.7 L712.9 216.0 L715.2 215.2 L716.9 214.3 L718.1 213.3 L719.1 212.2 L720.2 211.2 L721.7 210.3 L723.8 209.5 L726.4 208.8 L729.3 208.2 L732.1 207.6 L734.6 206.9 L736.6 206.1 L737.9 205.2 L738.9 204.2 L739.9 203.2 L741.1 202.2 L742.8 201.4 L745.1 200.7 L747.8 200.1 L750.6 199.5 L753.3 198.9 L755.4 198.2 L757.0 197.3 L758.1 196.4 L759.0 195.4 L760.0 194.5 L761.3 193.6 L763.3 192.9 L765.7 192.2 L768.4 191.7 L771.2 191.1 L773.5 190.5 L775.4 189.7 L776.6 188.8 L777.5 187.9 L778.4 187.0 L779.5 186.1 L781.0 185.3 L783.1 184.6 L785.7 184.1 L788.4 183.5 L790.9 182.9 L793.0 182.3 L794.5 181.5 L795.5 180.6 L796.3 179.7 L797.1 178.8 L798.4 178.0 L800.1 177.3 L802.4 176.7 L805.0 176.2"/>
<path d="M328.7 389.7 L331.2 387.7 L334.1 386.0 L337.6 384.4 L341.6 383.1 L346.1 381.9 L350.7 380.8 L355.0 379.6 L358.7 378.2 L361.8 376.6 L364.3 374.8 L366.6 373.0 L369.1 371.2 L372.0 369.6 L375.6 368.2 L379.8 367.0 L384.2 366.0 L388.5 364.9 L392.4 363.7 L395.6 362.2 L398.3 360.6 L400.5 358.8 L402.7 357.1 L405.2 355.4 L408.3 354.0 L412.0 352.8 L416.2 351.8 L420.4 350.8 L424.4 349.7 L427.9 348.4 L430.7 346.9 L432.9 345.3 L434.9 343.6 L437.1 342.0 L439.8 340.5 L443.0 339.2 L446.8 338.2 L450.9 337.2 L455.0 336.2 L458.6 335.1 L461.6 333.8 L463.9 332.3 L465.9 330.7 L467.8 329.1 L470.1 327.6 L472.8 326.3 L476.3 325.2 L480.1 324.2 L484.1 323.3 L487.8 322.3 L491.0 321.2 L493.6 319.8 L495.6 318.3 L497.4 316.8 L499.3 315.3 L501.6 313.9 L504.6 312.8 L508.1 311.8 L512.0 310.9 L515.7 310.0 L519.1 309.0 L521.9 307.8 L524.1 306.5 L525.8 305.0 L527.5 303.5 L529.4 302.1 L532.0 300.9 L535.1 299.9 L538.7 299.0 L542.4 298.2 L545.9 297.3 L548.9 296.2 L551.3 295.0 L553.1 293.6 L554.7 292.2 L556.3 290.8 L558.4 289.6 L561.1 288.5 L564.4 287.6 L568.0 286.8 L571.5 285.9 L574.7 285.0 L577.3 283.9 L579.3 282.7 L580.8 281.3 L582.3 280.0 L584.0 278.7 L586.3 277.6 L589.2 276.6 L592.5 275.8 L596.0 275.0 L599.4 274.2 L602.2 273.2 L604.3 272.1 L606.0 270.9 L607.4 269.6 L608.8 268.3 L610.7 267.1 L613.2 266.1 L616.2 265.3 L619.6 264.5 L622.9 263.8 L625.9 262.9 L628.4 261.9 L630.2 260.8 L631.6 259.5 L632.8 258.3 L634.4 257.1 L636.4 256.1 L639.1 255.2 L642.2 254.4 L645.5 253.7 L648.7 252.9 L651.3 252.0 L653.3 251.0 L654.8 249.9 L656.1 248.7 L657.3 247.5 L659.0 246.4 L661.3 245.5 L664.1 244.7 L667.3 244.0 L670.4 243.3 L673.3 242.5 L675.6 241.6 L677.2 240.5 L678.5 239.4 L679.6 238.2 L681.0 237.1 L682.8 236.1 L685.3 235.3 L688.2 234.6 L691.3 233.9 L694.3 233.2 L696.8 232.4 L698.7 231.5 L700.1 230.4 L701.2 229.3 L702.3 228.2 L703.8 227.2 L705.9 226.3 L708.5 225.6 L711.5 224.9 L714.5 224.3 L717.2 223.5 L719.3 222.7 L720.9 221.7 L722.0 220.7 L723.0 219.6 L724.2 218.6 L725.9 217.6 L728.2 216.9 L730.9 216.2 L733.9 215.6 L736.7 214.9 L739.1 214.2 L740.9 213.3 L742.1 212.4 L743.1 211.3 L744.1 210.3 L745.4 209.3 L747.3 208.5 L749.7 207.8 L752.6 207.2 L755.4 206.6 L758.0 205.9 L760.0 205.2 L761.5 204.3 L762.5 203.3 L763.4 202.3 L764.4 201.3 L766.0 200.4 L768.1 199.7 L770.6 199.1 L773.4 198.5 L776.1 197.9 L778.4 197.2 L780.1 196.4 L781.3 195.5 L782.1 194.5 L783.0 193.6 L784.2 192.7 L785.9 191.9 L788.2 191.3 L790.8 190.7 L793.6 190.1 L796.0 189.5 L798.0 188.8 L799.3 188.0 L800.3 187.1 L801.0 186.1 L802.0 185.2 L803.3 184.4 L805.3 183.7 L807.7 183.1 L810.4 182.6 L812.9 182.0 L815.1 181.4 L816.7 180.7 L817.8 179.8 L818.5 178.9"/>
</g>
<g clip-path="url(#topClip)"><polyline points="196.0,338.0 695.0,156.5 826.0,183.0" fill="none" stroke="#f8f9fb" stroke-width="6" filter="url(#blur1)" opacity="0.9"/></g>
<polyline points="203.0,333.8 695.0,154.5 824.0,180.5" fill="none" stroke="#e3e5ea" stroke-width="1.2"/>
<path d="M190.5 350 Q190 335 203 338.5 L333.5 393 L338 509.2 L222 462 Q196 452 194.5 426 Z" fill="url(#gCoverEnd)"/>
<clipPath id="endClip"><path d="M190.5 350 Q190 335 203 338.5 L333.5 393 L338 509.2 L222 462 Q196 452 194.5 426 Z"/></clipPath>
<g clip-path="url(#endClip)">
<path d="M186 418 Q194 456 222 466 L345 517" fill="none" stroke="#c9ced8" stroke-width="13" opacity="0.75" filter="url(#blur4)"/>
<path d="M188 336 L192 430" fill="none" stroke="#d3d8e1" stroke-width="9" opacity="0.8" filter="url(#blur2)"/>
<path d="M330 392 L338 511" fill="none" stroke="#dde0e7" stroke-width="8" opacity="0.6" filter="url(#blur2)"/>
</g>
<clipPath id="rollClip"><path d="M191.0 346.0 L193.0 338.0 L203.0 333.3 L340.0 386.0 L334.0 400.0 L190.5 352.0 Z"/></clipPath>
<g clip-path="url(#rollClip)"><path d="M196 333 L336 388.5" fill="none" stroke="#dfe3ea" stroke-width="8" opacity="0.9" filter="url(#blur2)"/><path d="M194 341 L334 395" fill="none" stroke="#ffffff" stroke-width="3" opacity="0.9" filter="url(#blur1)"/></g>
<path d="M342.3 493.8 L364.5 506 L352.5 510.2 Q345 510.5 344.3 505 Z" fill="#a6a8ae"/>
<path d="M333 393 L339.5 397 L342.3 494 Q342.8 508.5 352 510 L364.5 505.6 L366 507.5 L352.5 514 Q338 515.5 336.9 503 Z" fill="#fcfcfd" stroke="#dcdfe5" stroke-width="0.7"/>

<g>
<defs>
<linearGradient id="lf1" x1="0" y1="1" x2="1" y2="0"><stop offset="0" stop-color="#2c6326"/><stop offset="0.45" stop-color="#4a9238"/><stop offset="1" stop-color="#3b7f2f"/></linearGradient>
<linearGradient id="lf2" x1="1" y1="1" x2="0" y2="0"><stop offset="0" stop-color="#2a5f24"/><stop offset="0.5" stop-color="#3f8732"/><stop offset="1" stop-color="#5aa545"/></linearGradient>
<linearGradient id="lf3" x1="0" y1="0" x2="1" y2="1"><stop offset="0" stop-color="#3f8633"/><stop offset="0.6" stop-color="#2c6227"/><stop offset="1" stop-color="#1f4a1c"/></linearGradient>
<linearGradient id="lf4" x1="0" y1="1" x2="1" y2="0"><stop offset="0" stop-color="#234f1f"/><stop offset="0.6" stop-color="#35752b"/><stop offset="1" stop-color="#4c953a"/></linearGradient>
<linearGradient id="stem" x1="0" y1="0" x2="0" y2="1"><stop offset="0" stop-color="#3a7a2f"/><stop offset="0.6" stop-color="#2f6627"/><stop offset="1" stop-color="#7fa878" stop-opacity="0"/></linearGradient>
</defs>
<ellipse cx="84" cy="138" rx="52" ry="48" fill="#fffef4" opacity="0.45" filter="url(#blur4)"/>
<g transform="translate(35,90) scale(0.15106)">
  <!-- small centre leaf -->
  <path d="M341 163 Q356 230 338 320 L312 320 Q318 235 341 163 Z" fill="#3f8a33"/>
  <path d="M341 163 Q340 240 326 320 L312 320 Q318 235 341 163 Z" fill="#7dbb66" opacity="0.6"/>
  <!-- upper-left leaf -->
  <path d="M188 113 Q250 150 302 228 Q330 275 342 350 L304 356 Q292 300 268 250 Q236 185 188 113 Z" fill="url(#lf2)"/>
  <path d="M188 113 Q240 175 276 245 Q300 300 312 354 L304 356 Q292 300 268 250 Q236 185 188 113 Z" fill="#244f1f" opacity="0.75"/>
  <!-- tall right leaf -->
  <path d="M491 63 Q474 150 432 250 Q400 330 366 430 L316 420 Q326 350 372 250 Q420 150 491 63 Z" fill="url(#lf1)"/>
  <path d="M491 63 Q430 150 390 250 Q352 340 340 424 L316 420 Q326 350 372 250 Q420 150 491 63 Z" fill="#79b862" opacity="0.55"/>
  <path d="M491 63 Q474 150 432 250 Q400 330 366 430 L354 428 Q392 330 424 250 Q462 150 491 63 Z" fill="#2b6125" opacity="0.55"/>
  <!-- right leaves -->
  <path d="M596 294 Q520 298 440 330 Q390 352 356 390 L362 416 Q400 396 450 362 Q530 322 596 294 Z" fill="url(#lf1)"/>
  <path d="M596 294 Q520 298 440 330 Q390 352 356 390 L358 398 Q400 362 450 342 Q530 308 596 294 Z" fill="#86c070" opacity="0.6"/>
  <path d="M592 299 Q556 342 490 410 Q430 474 378 532 L360 500 Q380 460 430 420 Q500 360 592 299 Z" fill="url(#lf4)"/>
  <path d="M592 299 Q556 342 490 410 Q430 474 378 532 L372 522 Q430 462 484 400 Q540 340 592 299 Z" fill="#1d451a" opacity="0.6"/>
  <!-- long left leaf -->
  <path d="M68 158 Q150 186 232 250 Q300 310 348 400 L348 474 L318 440 Q270 362 182 272 Q120 210 68 158 Z" fill="url(#lf3)"/>
  <path d="M68 158 Q150 186 232 250 Q300 310 348 400 L338 410 Q290 325 220 262 Q150 200 68 158 Z" fill="#72b45c" opacity="0.8"/>
  <!-- lower left leaf -->
  <path d="M34 319 Q104 334 172 386 Q236 440 304 512 L290 540 Q214 462 150 400 Q96 352 34 319 Z" fill="url(#lf3)"/>
  <path d="M34 319 Q104 334 172 386 Q236 440 304 512 L296 522 Q226 448 164 394 Q104 346 34 319 Z" fill="#5fa64a" opacity="0.75"/>
  <!-- small lower-left leaf -->
  <path d="M174 464 Q226 486 268 528 Q288 552 296 580 L272 582 Q244 528 174 464 Z" fill="#3d8331"/>
  <!-- stem -->
  <path d="M296 470 Q292 430 328 410 Q364 414 368 460 Q370 540 356 612 L306 612 Q294 540 296 470 Z" fill="url(#stem)"/>
  <path d="M320 430 Q336 480 332 580" fill="none" stroke="#7fbf68" stroke-width="7" opacity="0.5"/>
</g>
</g>

<polyline points="809.7,104.5 654.5,104.5 654.5,211.7" fill="none" stroke="#a6a6a6" stroke-width="1" opacity="0.8"/><circle cx="809.7" cy="104.5" r="2.1" fill="#9a9a9a" opacity="0.85"/><circle cx="654.5" cy="211.7" r="2.1" fill="#9a9a9a" opacity="0.85"/>
<polyline points="985.4,142.5 843.5,142.5 843.5,223.0" fill="none" stroke="#a6a6a6" stroke-width="1" opacity="0.8"/><circle cx="985.4" cy="142.5" r="2.1" fill="#9a9a9a" opacity="0.85"/><circle cx="843.5" cy="223.0" r="2.1" fill="#9a9a9a" opacity="0.85"/>
<polyline points="338.0,207.5 497.5,207.5 497.5,344.0" fill="none" stroke="#a6a6a6" stroke-width="1" opacity="0.8"/><circle cx="338.0" cy="207.5" r="2.1" fill="#9a9a9a" opacity="0.85"/><circle cx="497.5" cy="344.0" r="2.1" fill="#9a9a9a" opacity="0.85"/>
<polyline points="781.8,495.5 700.5,495.5 700.5,447.0" fill="none" stroke="#a6a6a6" stroke-width="1" opacity="0.8"/><circle cx="781.8" cy="495.5" r="2.1" fill="#9a9a9a" opacity="0.85"/>
<polyline points="212.0,569.5 409.5,569.5 409.5,460.5" fill="none" stroke="#a6a6a6" stroke-width="1" opacity="0.8"/><circle cx="212.0" cy="569.5" r="2.1" fill="#9a9a9a" opacity="0.85"/><circle cx="409.5" cy="460.5" r="2.1" fill="#9a9a9a" opacity="0.85"/>
<polyline points="376.1,609.5 515.5,609.5 515.5,494.0" fill="none" stroke="#a6a6a6" stroke-width="1" opacity="0.8"/><circle cx="376.1" cy="609.5" r="2.1" fill="#9a9a9a" opacity="0.85"/><circle cx="515.5" cy="494.0" r="2.1" fill="#9a9a9a" opacity="0.85"/>
<polyline points="745.2,604.5 606.5,604.5 606.5,510.0" fill="none" stroke="#a6a6a6" stroke-width="1" opacity="0.8"/><circle cx="745.2" cy="604.5" r="2.1" fill="#9a9a9a" opacity="0.85"/>
<g font-family="'Liberation Sans', sans-serif" fill="#3a3a3a" opacity="0.99">
<text x="63.0" y="60.1" font-size="17.6" font-weight="700" textLength="196.0" lengthAdjust="spacingAndGlyphs">Grubość około 18-19 cm</text>
<text x="656.5" y="77.0" font-size="12.9" font-weight="700" textLength="155.4" lengthAdjust="spacingAndGlyphs">Pokrowiec pikowany owatą</text>
<text x="656.5" y="91.4" font-size="12.9" font-weight="400" textLength="56.0" lengthAdjust="spacingAndGlyphs">200gr/m2</text>
<text x="846.5" y="115.7" font-size="12.9" font-weight="700" textLength="108.3" lengthAdjust="spacingAndGlyphs">Pianka ViscoElastic</text>
<text x="846.5" y="130.2" font-size="12.9" font-weight="400" textLength="25.0" lengthAdjust="spacingAndGlyphs">3 cm</text>
<text x="348.1" y="180.6" font-size="12.9" font-weight="700" textLength="124.5" lengthAdjust="spacingAndGlyphs">Przekładka tapicerska</text>
<text x="348.1" y="195.6" font-size="12.9" font-weight="700" textLength="124.2" lengthAdjust="spacingAndGlyphs">+ siatka wzmacniająca</text>
<text x="708.0" y="482.4" font-size="12.9" font-weight="700" textLength="35.0" lengthAdjust="spacingAndGlyphs">Kokos</text>
<text x="746.2" y="482.4" font-size="12.9" font-weight="400" textLength="25.6" lengthAdjust="spacingAndGlyphs">1 cm</text>
<text x="217.8" y="542.1" font-size="12.9" font-weight="700" textLength="126.6" lengthAdjust="spacingAndGlyphs">Formatka kieszeniowa</text>
<text x="217.8" y="557.0" font-size="12.9" font-weight="400" textLength="98.0" lengthAdjust="spacingAndGlyphs">7-strefowa  12 cm</text>
<text x="383.5" y="597.4" font-size="12.9" font-weight="700" textLength="122.8" lengthAdjust="spacingAndGlyphs">Sprężyna kieszeniowa</text>
<text x="615.9" y="576.2" font-size="12.9" font-weight="700" textLength="126.0" lengthAdjust="spacingAndGlyphs">Przekładka tapicerska</text>
<text x="615.9" y="591.8" font-size="12.9" font-weight="700" textLength="125.7" lengthAdjust="spacingAndGlyphs">+ siatka wzmacniająca</text>
</g>
</svg>
</body>
</html>
